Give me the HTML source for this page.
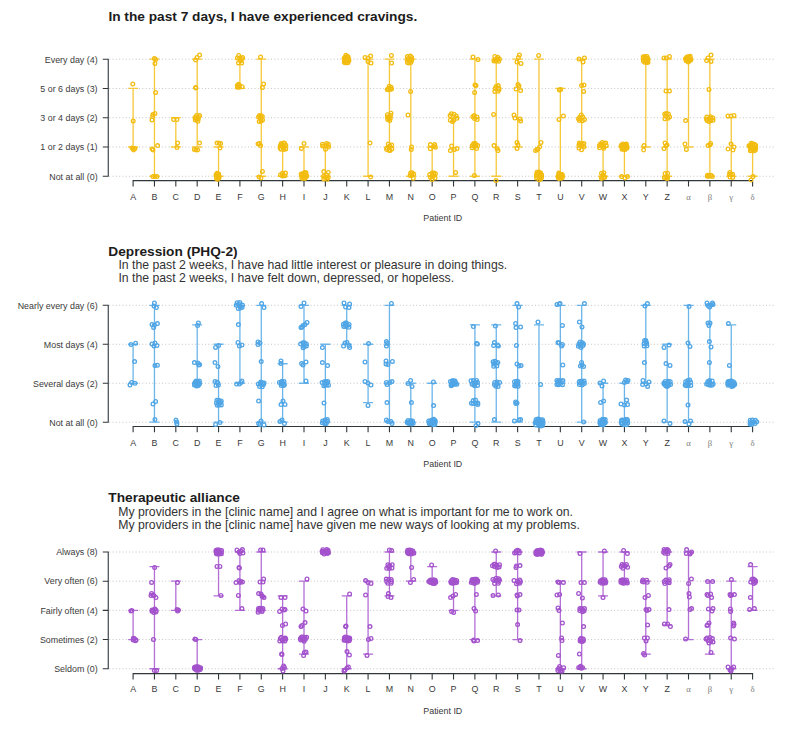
<!DOCTYPE html><html><head><meta charset="utf-8"><title>Patient responses</title><style>html,body{margin:0;padding:0;background:#fff}svg{display:block}</style></head><body><svg width="800" height="739" viewBox="0 0 800 739" font-family="'Liberation Sans', sans-serif">
<rect width="800" height="739" fill="#fff"/>
<text x="108.4" y="20.6" font-size="13.7" font-weight="bold" fill="#1c1c1c">In the past 7 days, I have experienced cravings.</text>
<text x="108.3" y="255.6" font-size="13.7" font-weight="bold" fill="#1c1c1c">Depression (PHQ-2)</text>
<text x="118.4" y="269.3" font-size="12.25" fill="#333">In the past 2 weeks, I have had little interest or pleasure in doing things.</text>
<text x="118.4" y="282.4" font-size="12.25" fill="#333">In the past 2 weeks, I have felt down, depressed, or hopeless.</text>
<text x="108.3" y="502" font-size="13.7" font-weight="bold" fill="#1c1c1c">Therapeutic alliance</text>
<text x="118.2" y="515.6" font-size="12.25" fill="#333">My providers in the [clinic name] and I agree on what is important for me to work on.</text>
<text x="118.2" y="528.6" font-size="12.25" fill="#333">My providers in the [clinic name] have given me new ways of looking at my problems.</text>
<g stroke="#c4c4c4" stroke-width="1" stroke-dasharray="1 2.3"><line x1="109.3" x2="775.6" y1="59.20" y2="59.20"/><line x1="109.3" x2="775.6" y1="88.46" y2="88.46"/><line x1="109.3" x2="775.6" y1="117.72" y2="117.72"/><line x1="109.3" x2="775.6" y1="146.99" y2="146.99"/><line x1="109.3" x2="775.6" y1="176.25" y2="176.25"/></g>
<path d="M108.25 59.20V176.25M103.3 59.20H108.25M103.3 88.46H108.25M103.3 117.72H108.25M103.3 146.99H108.25M103.3 176.25H108.25M133.10 180.60H752.60M133.10 180.60v5.3M154.46 180.60v5.3M175.82 180.60v5.3M197.19 180.60v5.3M218.55 180.60v5.3M239.91 180.60v5.3M261.27 180.60v5.3M282.63 180.60v5.3M304.00 180.60v5.3M325.36 180.60v5.3M346.72 180.60v5.3M368.08 180.60v5.3M389.44 180.60v5.3M410.81 180.60v5.3M432.17 180.60v5.3M453.53 180.60v5.3M474.89 180.60v5.3M496.25 180.60v5.3M517.62 180.60v5.3M538.98 180.60v5.3M560.34 180.60v5.3M581.70 180.60v5.3M603.06 180.60v5.3M624.43 180.60v5.3M645.79 180.60v5.3M667.15 180.60v5.3M688.51 180.60v5.3M709.87 180.60v5.3M731.24 180.60v5.3M752.60 180.60v5.3" stroke="#2f373b" stroke-width="1.1" fill="none" stroke-linecap="square"/>
<g font-size="8.9" fill="#3a3a3a"><text x="97.6" y="62.50" text-anchor="end">Every day (4)</text><text x="97.6" y="91.76" text-anchor="end">5 or 6 days (3)</text><text x="97.6" y="121.02" text-anchor="end">3 or 4 days (2)</text><text x="97.6" y="150.29" text-anchor="end">1 or 2 days (1)</text><text x="97.6" y="179.55" text-anchor="end">Not at all (0)</text><text x="133.10" y="199.75" text-anchor="middle">A</text><text x="154.46" y="199.75" text-anchor="middle">B</text><text x="175.82" y="199.75" text-anchor="middle">C</text><text x="197.19" y="199.75" text-anchor="middle">D</text><text x="218.55" y="199.75" text-anchor="middle">E</text><text x="239.91" y="199.75" text-anchor="middle">F</text><text x="261.27" y="199.75" text-anchor="middle">G</text><text x="282.63" y="199.75" text-anchor="middle">H</text><text x="304.00" y="199.75" text-anchor="middle">I</text><text x="325.36" y="199.75" text-anchor="middle">J</text><text x="346.72" y="199.75" text-anchor="middle">K</text><text x="368.08" y="199.75" text-anchor="middle">L</text><text x="389.44" y="199.75" text-anchor="middle">M</text><text x="410.81" y="199.75" text-anchor="middle">N</text><text x="432.17" y="199.75" text-anchor="middle">O</text><text x="453.53" y="199.75" text-anchor="middle">P</text><text x="474.89" y="199.75" text-anchor="middle">Q</text><text x="496.25" y="199.75" text-anchor="middle">R</text><text x="517.62" y="199.75" text-anchor="middle">S</text><text x="538.98" y="199.75" text-anchor="middle">T</text><text x="560.34" y="199.75" text-anchor="middle">U</text><text x="581.70" y="199.75" text-anchor="middle">V</text><text x="603.06" y="199.75" text-anchor="middle">W</text><text x="624.43" y="199.75" text-anchor="middle">X</text><text x="645.79" y="199.75" text-anchor="middle">Y</text><text x="667.15" y="199.75" text-anchor="middle">Z</text><text x="688.51" y="199.75" text-anchor="middle" font-family="'Liberation Serif', 'DejaVu Serif', serif" font-size="8.8" fill="#7d7d7d">α</text><text x="709.87" y="199.75" text-anchor="middle" font-family="'Liberation Serif', 'DejaVu Serif', serif" font-size="8.8" fill="#7d7d7d">β</text><text x="731.24" y="199.75" text-anchor="middle" font-family="'Liberation Serif', 'DejaVu Serif', serif" font-size="8.8" fill="#7d7d7d">γ</text><text x="752.60" y="199.75" text-anchor="middle" font-family="'Liberation Serif', 'DejaVu Serif', serif" font-size="8.8" fill="#7d7d7d">δ</text><text x="442.8" y="221.35" text-anchor="middle">Patient ID</text></g>
<path d="M133.10 88.46V146.99M128.10 88.46h10M128.10 146.99h10M154.46 59.20V176.25M149.46 59.20h10M149.46 176.25h10M175.82 117.72V146.99M170.82 117.72h10M170.82 146.99h10M197.19 59.20V146.99M192.19 59.20h10M192.19 146.99h10M218.55 146.99V176.25M213.55 146.99h10M213.55 176.25h10M239.91 59.20V88.46M234.91 59.20h10M234.91 88.46h10M261.27 59.20V176.25M256.27 59.20h10M256.27 176.25h10M282.63 146.99V176.25M277.63 146.99h10M277.63 176.25h10M304.00 146.99V176.25M299.00 146.99h10M299.00 176.25h10M325.36 146.99V176.25M320.36 146.99h10M320.36 176.25h10M368.08 59.20V176.25M363.08 59.20h10M363.08 176.25h10M389.44 59.20V146.99M384.44 59.20h10M384.44 146.99h10M410.81 59.20V176.25M405.81 59.20h10M405.81 176.25h10M432.17 146.99V176.25M427.17 146.99h10M427.17 176.25h10M453.53 117.72V176.25M448.53 117.72h10M448.53 176.25h10M474.89 59.20V176.25M469.89 59.20h10M469.89 176.25h10M496.25 59.20V176.25M491.25 59.20h10M491.25 176.25h10M517.62 59.20V146.99M512.62 59.20h10M512.62 146.99h10M538.98 59.20V176.25M533.98 59.20h10M533.98 176.25h10M560.34 88.46V176.25M555.34 88.46h10M555.34 176.25h10M581.70 59.20V146.99M576.70 59.20h10M576.70 146.99h10M603.06 146.99V176.25M598.06 146.99h10M598.06 176.25h10M624.43 146.99V176.25M619.43 146.99h10M619.43 176.25h10M645.79 59.20V146.99M640.79 59.20h10M640.79 146.99h10M667.15 59.20V176.25M662.15 59.20h10M662.15 176.25h10M688.51 59.20V146.99M683.51 59.20h10M683.51 146.99h10M709.87 59.20V176.25M704.87 59.20h10M704.87 176.25h10M731.24 117.72V176.25M726.24 117.72h10M726.24 176.25h10M752.60 146.99V176.25M747.60 146.99h10M747.60 176.25h10" stroke="#F6C83A" stroke-width="1.3" fill="none"/>
<g stroke="#F2BC10" stroke-width="1.3" fill="none"><circle cx="132.8" cy="84.0" r="1.85"/><circle cx="133.2" cy="121.0" r="1.85"/><circle cx="132.0" cy="148.0" r="1.85"/><circle cx="133.6" cy="150.0" r="1.85"/><circle cx="135.0" cy="148.6" r="1.85"/><circle cx="133.2" cy="149.0" r="1.85"/><circle cx="154.4" cy="58.6" r="1.85"/><circle cx="155.6" cy="59.4" r="1.85"/><circle cx="155.0" cy="63.4" r="1.85"/><circle cx="155.6" cy="92.4" r="1.85"/><circle cx="153.0" cy="114.6" r="1.85"/><circle cx="155.0" cy="113.4" r="1.85"/><circle cx="152.0" cy="120.0" r="1.85"/><circle cx="152.6" cy="116.6" r="1.85"/><circle cx="152.0" cy="149.0" r="1.85"/><circle cx="153.0" cy="150.0" r="1.85"/><circle cx="157.6" cy="145.6" r="1.85"/><circle cx="153.0" cy="176.6" r="1.85"/><circle cx="155.0" cy="176.6" r="1.85"/><circle cx="157.0" cy="176.6" r="1.85"/><circle cx="173.6" cy="119.6" r="1.85"/><circle cx="177.0" cy="119.6" r="1.85"/><circle cx="177.6" cy="143.0" r="1.85"/><circle cx="177.0" cy="147.6" r="1.85"/><circle cx="195.6" cy="60.0" r="1.85"/><circle cx="197.0" cy="57.4" r="1.85"/><circle cx="199.6" cy="55.0" r="1.85"/><circle cx="195.6" cy="87.6" r="1.85"/><circle cx="196.0" cy="88.0" r="1.85"/><circle cx="199.6" cy="143.0" r="1.85"/><circle cx="194.4" cy="149.4" r="1.85"/><circle cx="196.0" cy="150.0" r="1.85"/><circle cx="197.6" cy="150.0" r="1.85"/><circle cx="196.6" cy="115.4" r="1.85"/><circle cx="198.0" cy="121.3" r="1.85"/><circle cx="195.9" cy="118.6" r="1.85"/><circle cx="198.5" cy="116.4" r="1.85"/><circle cx="198.3" cy="118.7" r="1.85"/><circle cx="197.3" cy="119.2" r="1.85"/><circle cx="195.3" cy="120.0" r="1.85"/><circle cx="199.6" cy="115.4" r="1.85"/><circle cx="195.0" cy="117.4" r="1.85"/><circle cx="217.0" cy="143.0" r="1.85"/><circle cx="219.0" cy="143.0" r="1.85"/><circle cx="220.6" cy="143.4" r="1.85"/><circle cx="220.0" cy="148.0" r="1.85"/><circle cx="217.6" cy="177.0" r="1.85"/><circle cx="217.1" cy="173.2" r="1.85"/><circle cx="218.6" cy="173.9" r="1.85"/><circle cx="217.7" cy="179.5" r="1.85"/><circle cx="216.1" cy="174.7" r="1.85"/><circle cx="219.0" cy="175.8" r="1.85"/><circle cx="218.9" cy="178.1" r="1.85"/><circle cx="216.5" cy="178.4" r="1.85"/><circle cx="219.0" cy="177.2" r="1.85"/><circle cx="217.2" cy="175.9" r="1.85"/><circle cx="217.4" cy="174.0" r="1.85"/><circle cx="217.8" cy="178.1" r="1.85"/><circle cx="217.9" cy="176.2" r="1.85"/><circle cx="242.6" cy="57.4" r="1.85"/><circle cx="238.5" cy="62.9" r="1.85"/><circle cx="237.4" cy="58.0" r="1.85"/><circle cx="241.7" cy="63.1" r="1.85"/><circle cx="240.5" cy="60.9" r="1.85"/><circle cx="239.8" cy="58.0" r="1.85"/><circle cx="238.7" cy="55.4" r="1.85"/><circle cx="241.9" cy="58.8" r="1.85"/><circle cx="239.2" cy="87.3" r="1.85"/><circle cx="242.2" cy="86.7" r="1.85"/><circle cx="237.3" cy="85.5" r="1.85"/><circle cx="239.5" cy="85.3" r="1.85"/><circle cx="237.5" cy="87.3" r="1.85"/><circle cx="238.6" cy="84.2" r="1.85"/><circle cx="260.6" cy="57.0" r="1.85"/><circle cx="263.6" cy="84.0" r="1.85"/><circle cx="262.4" cy="87.4" r="1.85"/><circle cx="258.0" cy="144.0" r="1.85"/><circle cx="259.4" cy="143.4" r="1.85"/><circle cx="260.6" cy="145.6" r="1.85"/><circle cx="262.4" cy="171.4" r="1.85"/><circle cx="259.0" cy="177.0" r="1.85"/><circle cx="261.0" cy="178.0" r="1.85"/><circle cx="260.8" cy="119.3" r="1.85"/><circle cx="258.5" cy="117.0" r="1.85"/><circle cx="261.2" cy="115.8" r="1.85"/><circle cx="262.3" cy="116.6" r="1.85"/><circle cx="259.2" cy="121.4" r="1.85"/><circle cx="260.3" cy="117.2" r="1.85"/><circle cx="262.5" cy="119.9" r="1.85"/><circle cx="259.5" cy="115.6" r="1.85"/><circle cx="261.1" cy="121.1" r="1.85"/><circle cx="284.4" cy="146.2" r="1.85"/><circle cx="281.2" cy="149.3" r="1.85"/><circle cx="281.2" cy="143.6" r="1.85"/><circle cx="282.3" cy="145.4" r="1.85"/><circle cx="285.7" cy="148.9" r="1.85"/><circle cx="283.1" cy="147.8" r="1.85"/><circle cx="280.2" cy="148.5" r="1.85"/><circle cx="283.6" cy="143.1" r="1.85"/><circle cx="281.4" cy="144.7" r="1.85"/><circle cx="284.0" cy="149.5" r="1.85"/><circle cx="285.8" cy="145.2" r="1.85"/><circle cx="280.4" cy="145.8" r="1.85"/><circle cx="284.5" cy="143.2" r="1.85"/><circle cx="285.5" cy="173.1" r="1.85"/><circle cx="282.5" cy="175.9" r="1.85"/><circle cx="282.4" cy="173.3" r="1.85"/><circle cx="284.8" cy="175.8" r="1.85"/><circle cx="280.5" cy="174.7" r="1.85"/><circle cx="304.0" cy="143.4" r="1.85"/><circle cx="301.4" cy="148.4" r="1.85"/><circle cx="305.3" cy="175.1" r="1.85"/><circle cx="301.9" cy="178.2" r="1.85"/><circle cx="301.2" cy="174.1" r="1.85"/><circle cx="306.8" cy="176.1" r="1.85"/><circle cx="302.5" cy="176.2" r="1.85"/><circle cx="304.8" cy="172.6" r="1.85"/><circle cx="303.2" cy="173.4" r="1.85"/><circle cx="304.8" cy="178.4" r="1.85"/><circle cx="301.7" cy="175.4" r="1.85"/><circle cx="303.4" cy="177.9" r="1.85"/><circle cx="304.1" cy="174.7" r="1.85"/><circle cx="306.0" cy="172.8" r="1.85"/><circle cx="305.6" cy="177.5" r="1.85"/><circle cx="322.9" cy="146.1" r="1.85"/><circle cx="328.4" cy="144.2" r="1.85"/><circle cx="325.5" cy="149.2" r="1.85"/><circle cx="326.4" cy="145.6" r="1.85"/><circle cx="328.6" cy="147.0" r="1.85"/><circle cx="322.5" cy="144.3" r="1.85"/><circle cx="326.5" cy="143.4" r="1.85"/><circle cx="323.7" cy="176.2" r="1.85"/><circle cx="328.3" cy="177.5" r="1.85"/><circle cx="328.3" cy="172.5" r="1.85"/><circle cx="327.1" cy="175.2" r="1.85"/><circle cx="323.8" cy="171.6" r="1.85"/><circle cx="327.1" cy="179.2" r="1.85"/><circle cx="323.8" cy="178.9" r="1.85"/><circle cx="325.1" cy="177.4" r="1.85"/><circle cx="326.8" cy="177.5" r="1.85"/><circle cx="344.3" cy="61.9" r="1.85"/><circle cx="347.8" cy="56.6" r="1.85"/><circle cx="344.2" cy="58.3" r="1.85"/><circle cx="347.8" cy="62.8" r="1.85"/><circle cx="347.5" cy="59.0" r="1.85"/><circle cx="346.0" cy="58.2" r="1.85"/><circle cx="346.7" cy="61.0" r="1.85"/><circle cx="345.0" cy="57.4" r="1.85"/><circle cx="348.9" cy="60.8" r="1.85"/><circle cx="345.9" cy="55.3" r="1.85"/><circle cx="344.7" cy="59.8" r="1.85"/><circle cx="346.1" cy="56.8" r="1.85"/><circle cx="347.9" cy="60.7" r="1.85"/><circle cx="346.4" cy="62.8" r="1.85"/><circle cx="346.6" cy="60.1" r="1.85"/><circle cx="346.0" cy="61.1" r="1.85"/><circle cx="348.7" cy="59.2" r="1.85"/><circle cx="345.1" cy="62.7" r="1.85"/><circle cx="348.2" cy="57.8" r="1.85"/><circle cx="365.0" cy="57.4" r="1.85"/><circle cx="368.0" cy="58.0" r="1.85"/><circle cx="370.6" cy="56.0" r="1.85"/><circle cx="368.0" cy="61.4" r="1.85"/><circle cx="371.0" cy="63.0" r="1.85"/><circle cx="370.0" cy="143.0" r="1.85"/><circle cx="370.6" cy="177.0" r="1.85"/><circle cx="391.4" cy="55.4" r="1.85"/><circle cx="391.6" cy="63.0" r="1.85"/><circle cx="388.8" cy="88.5" r="1.85"/><circle cx="391.5" cy="89.1" r="1.85"/><circle cx="387.3" cy="89.5" r="1.85"/><circle cx="389.2" cy="86.3" r="1.85"/><circle cx="390.2" cy="89.3" r="1.85"/><circle cx="388.2" cy="89.8" r="1.85"/><circle cx="391.1" cy="87.2" r="1.85"/><circle cx="389.7" cy="120.5" r="1.85"/><circle cx="387.5" cy="114.8" r="1.85"/><circle cx="391.0" cy="113.2" r="1.85"/><circle cx="390.5" cy="115.4" r="1.85"/><circle cx="387.5" cy="117.1" r="1.85"/><circle cx="387.7" cy="119.6" r="1.85"/><circle cx="390.3" cy="118.3" r="1.85"/><circle cx="388.8" cy="118.4" r="1.85"/><circle cx="389.0" cy="117.1" r="1.85"/><circle cx="391.8" cy="149.1" r="1.85"/><circle cx="386.5" cy="149.5" r="1.85"/><circle cx="388.3" cy="143.9" r="1.85"/><circle cx="391.7" cy="145.0" r="1.85"/><circle cx="389.1" cy="147.7" r="1.85"/><circle cx="386.9" cy="148.0" r="1.85"/><circle cx="389.8" cy="145.9" r="1.85"/><circle cx="389.0" cy="150.3" r="1.85"/><circle cx="390.0" cy="150.4" r="1.85"/><circle cx="408.3" cy="58.5" r="1.85"/><circle cx="410.8" cy="62.6" r="1.85"/><circle cx="410.4" cy="56.1" r="1.85"/><circle cx="407.5" cy="62.5" r="1.85"/><circle cx="410.6" cy="59.9" r="1.85"/><circle cx="408.8" cy="62.9" r="1.85"/><circle cx="411.6" cy="57.5" r="1.85"/><circle cx="407.4" cy="56.6" r="1.85"/><circle cx="410.7" cy="58.9" r="1.85"/><circle cx="408.9" cy="60.2" r="1.85"/><circle cx="407.0" cy="59.6" r="1.85"/><circle cx="411.8" cy="59.5" r="1.85"/><circle cx="411.3" cy="61.0" r="1.85"/><circle cx="410.6" cy="91.4" r="1.85"/><circle cx="408.0" cy="115.0" r="1.85"/><circle cx="411.6" cy="147.0" r="1.85"/><circle cx="411.2" cy="149.4" r="1.85"/><circle cx="412.0" cy="175.5" r="1.85"/><circle cx="413.3" cy="178.3" r="1.85"/><circle cx="410.3" cy="175.6" r="1.85"/><circle cx="412.1" cy="172.7" r="1.85"/><circle cx="413.7" cy="174.1" r="1.85"/><circle cx="410.6" cy="173.1" r="1.85"/><circle cx="430.4" cy="144.6" r="1.85"/><circle cx="434.7" cy="144.6" r="1.85"/><circle cx="430.4" cy="148.7" r="1.85"/><circle cx="435.4" cy="147.3" r="1.85"/><circle cx="434.0" cy="146.5" r="1.85"/><circle cx="432.0" cy="179.4" r="1.85"/><circle cx="429.7" cy="174.5" r="1.85"/><circle cx="435.4" cy="173.8" r="1.85"/><circle cx="435.1" cy="178.0" r="1.85"/><circle cx="433.3" cy="176.2" r="1.85"/><circle cx="432.1" cy="173.1" r="1.85"/><circle cx="432.1" cy="176.0" r="1.85"/><circle cx="430.6" cy="177.4" r="1.85"/><circle cx="433.9" cy="173.1" r="1.85"/><circle cx="453.7" cy="120.2" r="1.85"/><circle cx="451.4" cy="113.7" r="1.85"/><circle cx="456.2" cy="115.9" r="1.85"/><circle cx="454.0" cy="114.3" r="1.85"/><circle cx="450.3" cy="120.2" r="1.85"/><circle cx="450.1" cy="115.6" r="1.85"/><circle cx="452.5" cy="121.4" r="1.85"/><circle cx="456.9" cy="118.2" r="1.85"/><circle cx="451.6" cy="146.0" r="1.85"/><circle cx="457.0" cy="148.6" r="1.85"/><circle cx="450.4" cy="150.6" r="1.85"/><circle cx="454.4" cy="149.4" r="1.85"/><circle cx="455.6" cy="172.4" r="1.85"/><circle cx="473.0" cy="57.0" r="1.85"/><circle cx="478.0" cy="59.4" r="1.85"/><circle cx="475.0" cy="85.0" r="1.85"/><circle cx="476.0" cy="85.6" r="1.85"/><circle cx="474.6" cy="92.4" r="1.85"/><circle cx="474.4" cy="175.4" r="1.85"/><circle cx="474.6" cy="118.6" r="1.85"/><circle cx="474.2" cy="115.6" r="1.85"/><circle cx="477.2" cy="119.6" r="1.85"/><circle cx="477.0" cy="117.0" r="1.85"/><circle cx="472.8" cy="116.8" r="1.85"/><circle cx="473.7" cy="143.6" r="1.85"/><circle cx="476.5" cy="148.6" r="1.85"/><circle cx="472.2" cy="147.8" r="1.85"/><circle cx="472.3" cy="145.6" r="1.85"/><circle cx="477.7" cy="145.5" r="1.85"/><circle cx="475.6" cy="146.3" r="1.85"/><circle cx="473.9" cy="146.3" r="1.85"/><circle cx="475.3" cy="143.4" r="1.85"/><circle cx="475.9" cy="144.9" r="1.85"/><circle cx="498.7" cy="61.3" r="1.85"/><circle cx="494.8" cy="56.5" r="1.85"/><circle cx="497.7" cy="57.2" r="1.85"/><circle cx="495.1" cy="59.9" r="1.85"/><circle cx="497.6" cy="59.6" r="1.85"/><circle cx="499.4" cy="58.9" r="1.85"/><circle cx="496.9" cy="58.4" r="1.85"/><circle cx="494.0" cy="61.0" r="1.85"/><circle cx="496.1" cy="61.0" r="1.85"/><circle cx="494.8" cy="91.4" r="1.85"/><circle cx="499.0" cy="89.5" r="1.85"/><circle cx="498.2" cy="85.6" r="1.85"/><circle cx="495.3" cy="88.6" r="1.85"/><circle cx="498.0" cy="91.3" r="1.85"/><circle cx="496.1" cy="86.4" r="1.85"/><circle cx="498.9" cy="88.2" r="1.85"/><circle cx="493.6" cy="114.4" r="1.85"/><circle cx="494.0" cy="145.6" r="1.85"/><circle cx="497.0" cy="148.6" r="1.85"/><circle cx="498.0" cy="150.6" r="1.85"/><circle cx="496.0" cy="180.6" r="1.85"/><circle cx="519.4" cy="55.0" r="1.85"/><circle cx="518.4" cy="57.4" r="1.85"/><circle cx="517.0" cy="62.0" r="1.85"/><circle cx="521.0" cy="63.4" r="1.85"/><circle cx="518.0" cy="84.4" r="1.85"/><circle cx="516.0" cy="89.0" r="1.85"/><circle cx="520.6" cy="90.6" r="1.85"/><circle cx="519.0" cy="86.0" r="1.85"/><circle cx="514.0" cy="115.0" r="1.85"/><circle cx="515.0" cy="118.0" r="1.85"/><circle cx="520.0" cy="119.0" r="1.85"/><circle cx="520.6" cy="121.0" r="1.85"/><circle cx="517.0" cy="142.4" r="1.85"/><circle cx="518.0" cy="145.0" r="1.85"/><circle cx="517.0" cy="148.4" r="1.85"/><circle cx="538.6" cy="55.4" r="1.85"/><circle cx="541.0" cy="142.4" r="1.85"/><circle cx="539.6" cy="147.0" r="1.85"/><circle cx="538.0" cy="149.0" r="1.85"/><circle cx="535.6" cy="150.4" r="1.85"/><circle cx="537.0" cy="149.4" r="1.85"/><circle cx="538.8" cy="176.6" r="1.85"/><circle cx="539.2" cy="179.7" r="1.85"/><circle cx="541.6" cy="177.5" r="1.85"/><circle cx="536.4" cy="174.7" r="1.85"/><circle cx="538.1" cy="173.1" r="1.85"/><circle cx="541.6" cy="174.7" r="1.85"/><circle cx="540.2" cy="173.7" r="1.85"/><circle cx="540.9" cy="179.0" r="1.85"/><circle cx="537.1" cy="176.3" r="1.85"/><circle cx="538.8" cy="172.1" r="1.85"/><circle cx="539.7" cy="177.8" r="1.85"/><circle cx="539.6" cy="174.6" r="1.85"/><circle cx="540.5" cy="172.7" r="1.85"/><circle cx="537.0" cy="172.2" r="1.85"/><circle cx="536.6" cy="177.9" r="1.85"/><circle cx="559.4" cy="90.0" r="1.85"/><circle cx="560.6" cy="89.4" r="1.85"/><circle cx="563.4" cy="116.0" r="1.85"/><circle cx="559.0" cy="119.4" r="1.85"/><circle cx="559.4" cy="178.2" r="1.85"/><circle cx="562.2" cy="174.6" r="1.85"/><circle cx="558.7" cy="175.0" r="1.85"/><circle cx="558.8" cy="173.1" r="1.85"/><circle cx="561.3" cy="178.3" r="1.85"/><circle cx="558.1" cy="177.1" r="1.85"/><circle cx="562.3" cy="177.4" r="1.85"/><circle cx="560.3" cy="176.3" r="1.85"/><circle cx="559.5" cy="173.9" r="1.85"/><circle cx="561.2" cy="174.9" r="1.85"/><circle cx="562.1" cy="176.1" r="1.85"/><circle cx="558.6" cy="178.5" r="1.85"/><circle cx="559.8" cy="177.3" r="1.85"/><circle cx="579.0" cy="59.0" r="1.85"/><circle cx="584.4" cy="58.0" r="1.85"/><circle cx="583.0" cy="62.0" r="1.85"/><circle cx="581.6" cy="85.6" r="1.85"/><circle cx="584.0" cy="85.0" r="1.85"/><circle cx="583.6" cy="91.4" r="1.85"/><circle cx="579.4" cy="120.4" r="1.85"/><circle cx="581.2" cy="115.0" r="1.85"/><circle cx="582.7" cy="117.0" r="1.85"/><circle cx="582.4" cy="120.7" r="1.85"/><circle cx="579.6" cy="117.4" r="1.85"/><circle cx="584.5" cy="119.6" r="1.85"/><circle cx="578.5" cy="118.7" r="1.85"/><circle cx="581.5" cy="149.8" r="1.85"/><circle cx="579.3" cy="143.0" r="1.85"/><circle cx="583.9" cy="143.5" r="1.85"/><circle cx="583.9" cy="147.0" r="1.85"/><circle cx="581.9" cy="145.4" r="1.85"/><circle cx="579.0" cy="144.9" r="1.85"/><circle cx="582.3" cy="143.8" r="1.85"/><circle cx="580.5" cy="144.1" r="1.85"/><circle cx="579.0" cy="148.1" r="1.85"/><circle cx="599.6" cy="147.7" r="1.85"/><circle cx="602.2" cy="142.5" r="1.85"/><circle cx="606.3" cy="145.7" r="1.85"/><circle cx="603.7" cy="148.5" r="1.85"/><circle cx="601.8" cy="145.2" r="1.85"/><circle cx="599.5" cy="145.6" r="1.85"/><circle cx="604.2" cy="143.3" r="1.85"/><circle cx="605.8" cy="143.0" r="1.85"/><circle cx="603.5" cy="146.7" r="1.85"/><circle cx="600.4" cy="144.0" r="1.85"/><circle cx="603.8" cy="172.7" r="1.85"/><circle cx="601.4" cy="178.5" r="1.85"/><circle cx="604.7" cy="177.3" r="1.85"/><circle cx="601.5" cy="173.3" r="1.85"/><circle cx="603.1" cy="175.1" r="1.85"/><circle cx="601.8" cy="177.3" r="1.85"/><circle cx="603.5" cy="177.7" r="1.85"/><circle cx="621.0" cy="146.2" r="1.85"/><circle cx="625.2" cy="148.3" r="1.85"/><circle cx="626.3" cy="144.1" r="1.85"/><circle cx="622.1" cy="149.2" r="1.85"/><circle cx="623.3" cy="147.4" r="1.85"/><circle cx="626.8" cy="146.3" r="1.85"/><circle cx="623.1" cy="143.9" r="1.85"/><circle cx="624.5" cy="145.8" r="1.85"/><circle cx="626.1" cy="145.3" r="1.85"/><circle cx="622.9" cy="145.5" r="1.85"/><circle cx="621.7" cy="144.7" r="1.85"/><circle cx="623.3" cy="149.1" r="1.85"/><circle cx="625.0" cy="144.7" r="1.85"/><circle cx="625.1" cy="149.4" r="1.85"/><circle cx="627.0" cy="147.9" r="1.85"/><circle cx="621.6" cy="176.6" r="1.85"/><circle cx="625.0" cy="178.0" r="1.85"/><circle cx="627.4" cy="176.6" r="1.85"/><circle cx="643.4" cy="58.4" r="1.85"/><circle cx="648.0" cy="62.3" r="1.85"/><circle cx="643.4" cy="60.9" r="1.85"/><circle cx="647.6" cy="58.3" r="1.85"/><circle cx="645.9" cy="61.7" r="1.85"/><circle cx="645.1" cy="56.4" r="1.85"/><circle cx="646.1" cy="58.8" r="1.85"/><circle cx="645.0" cy="58.0" r="1.85"/><circle cx="646.9" cy="61.0" r="1.85"/><circle cx="644.7" cy="62.3" r="1.85"/><circle cx="643.2" cy="56.7" r="1.85"/><circle cx="646.9" cy="62.6" r="1.85"/><circle cx="647.9" cy="59.7" r="1.85"/><circle cx="645.5" cy="60.5" r="1.85"/><circle cx="646.9" cy="56.4" r="1.85"/><circle cx="644.0" cy="145.6" r="1.85"/><circle cx="643.6" cy="150.0" r="1.85"/><circle cx="664.0" cy="58.0" r="1.85"/><circle cx="666.4" cy="58.0" r="1.85"/><circle cx="669.4" cy="56.4" r="1.85"/><circle cx="666.0" cy="91.0" r="1.85"/><circle cx="669.4" cy="91.0" r="1.85"/><circle cx="665.0" cy="143.0" r="1.85"/><circle cx="664.0" cy="148.6" r="1.85"/><circle cx="667.0" cy="145.0" r="1.85"/><circle cx="666.0" cy="146.0" r="1.85"/><circle cx="667.9" cy="118.3" r="1.85"/><circle cx="665.5" cy="116.0" r="1.85"/><circle cx="668.4" cy="114.0" r="1.85"/><circle cx="664.9" cy="118.8" r="1.85"/><circle cx="666.4" cy="113.4" r="1.85"/><circle cx="669.6" cy="117.1" r="1.85"/><circle cx="664.7" cy="114.1" r="1.85"/><circle cx="667.5" cy="177.2" r="1.85"/><circle cx="665.1" cy="173.5" r="1.85"/><circle cx="667.6" cy="173.3" r="1.85"/><circle cx="664.3" cy="177.4" r="1.85"/><circle cx="665.8" cy="178.1" r="1.85"/><circle cx="667.4" cy="178.6" r="1.85"/><circle cx="686.6" cy="57.6" r="1.85"/><circle cx="690.8" cy="60.1" r="1.85"/><circle cx="690.1" cy="56.2" r="1.85"/><circle cx="689.1" cy="59.4" r="1.85"/><circle cx="686.2" cy="60.7" r="1.85"/><circle cx="689.7" cy="57.3" r="1.85"/><circle cx="689.1" cy="61.0" r="1.85"/><circle cx="687.4" cy="58.8" r="1.85"/><circle cx="690.6" cy="58.8" r="1.85"/><circle cx="687.4" cy="56.7" r="1.85"/><circle cx="685.5" cy="58.8" r="1.85"/><circle cx="686.7" cy="59.6" r="1.85"/><circle cx="688.2" cy="62.0" r="1.85"/><circle cx="685.6" cy="120.6" r="1.85"/><circle cx="685.0" cy="144.0" r="1.85"/><circle cx="686.4" cy="149.4" r="1.85"/><circle cx="711.0" cy="55.0" r="1.85"/><circle cx="708.0" cy="58.0" r="1.85"/><circle cx="706.6" cy="60.6" r="1.85"/><circle cx="711.0" cy="61.4" r="1.85"/><circle cx="709.0" cy="89.4" r="1.85"/><circle cx="710.6" cy="143.4" r="1.85"/><circle cx="708.0" cy="145.6" r="1.85"/><circle cx="710.0" cy="145.0" r="1.85"/><circle cx="710.5" cy="116.7" r="1.85"/><circle cx="707.1" cy="120.6" r="1.85"/><circle cx="710.8" cy="120.8" r="1.85"/><circle cx="712.9" cy="117.9" r="1.85"/><circle cx="706.8" cy="116.9" r="1.85"/><circle cx="710.5" cy="118.3" r="1.85"/><circle cx="713.0" cy="120.3" r="1.85"/><circle cx="708.9" cy="121.5" r="1.85"/><circle cx="706.5" cy="119.0" r="1.85"/><circle cx="711.0" cy="175.3" r="1.85"/><circle cx="707.4" cy="176.3" r="1.85"/><circle cx="709.1" cy="176.3" r="1.85"/><circle cx="712.3" cy="176.4" r="1.85"/><circle cx="707.6" cy="175.3" r="1.85"/><circle cx="728.0" cy="116.0" r="1.85"/><circle cx="731.0" cy="116.0" r="1.85"/><circle cx="734.0" cy="115.4" r="1.85"/><circle cx="731.0" cy="144.0" r="1.85"/><circle cx="734.0" cy="147.0" r="1.85"/><circle cx="728.0" cy="149.0" r="1.85"/><circle cx="733.0" cy="150.0" r="1.85"/><circle cx="732.7" cy="177.4" r="1.85"/><circle cx="729.5" cy="174.2" r="1.85"/><circle cx="732.6" cy="174.3" r="1.85"/><circle cx="730.0" cy="176.9" r="1.85"/><circle cx="731.1" cy="174.6" r="1.85"/><circle cx="729.8" cy="172.5" r="1.85"/><circle cx="749.9" cy="146.7" r="1.85"/><circle cx="754.8" cy="144.4" r="1.85"/><circle cx="755.2" cy="150.2" r="1.85"/><circle cx="750.4" cy="150.7" r="1.85"/><circle cx="751.4" cy="144.5" r="1.85"/><circle cx="755.7" cy="145.6" r="1.85"/><circle cx="751.9" cy="148.1" r="1.85"/><circle cx="752.8" cy="145.7" r="1.85"/><circle cx="753.7" cy="148.2" r="1.85"/><circle cx="751.3" cy="143.2" r="1.85"/><circle cx="753.0" cy="143.8" r="1.85"/><circle cx="755.7" cy="148.6" r="1.85"/><circle cx="752.7" cy="149.6" r="1.85"/><circle cx="750.4" cy="145.4" r="1.85"/><circle cx="755.4" cy="147.4" r="1.85"/><circle cx="751.5" cy="150.4" r="1.85"/><circle cx="749.0" cy="145.7" r="1.85"/><circle cx="750.4" cy="147.7" r="1.85"/><circle cx="753.5" cy="151.0" r="1.85"/><circle cx="753.0" cy="176.6" r="1.85"/><circle cx="751.0" cy="180.0" r="1.85"/></g>
<g stroke="#c4c4c4" stroke-width="1" stroke-dasharray="1 2.3"><line x1="109.3" x2="775.6" y1="305.30" y2="305.30"/><line x1="109.3" x2="775.6" y1="344.27" y2="344.27"/><line x1="109.3" x2="775.6" y1="383.23" y2="383.23"/><line x1="109.3" x2="775.6" y1="422.20" y2="422.20"/></g>
<path d="M108.25 305.30V422.20M103.3 305.30H108.25M103.3 344.27H108.25M103.3 383.23H108.25M103.3 422.20H108.25M133.10 426.50H752.60M133.10 426.50v5.3M154.46 426.50v5.3M175.82 426.50v5.3M197.19 426.50v5.3M218.55 426.50v5.3M239.91 426.50v5.3M261.27 426.50v5.3M282.63 426.50v5.3M304.00 426.50v5.3M325.36 426.50v5.3M346.72 426.50v5.3M368.08 426.50v5.3M389.44 426.50v5.3M410.81 426.50v5.3M432.17 426.50v5.3M453.53 426.50v5.3M474.89 426.50v5.3M496.25 426.50v5.3M517.62 426.50v5.3M538.98 426.50v5.3M560.34 426.50v5.3M581.70 426.50v5.3M603.06 426.50v5.3M624.43 426.50v5.3M645.79 426.50v5.3M667.15 426.50v5.3M688.51 426.50v5.3M709.87 426.50v5.3M731.24 426.50v5.3M752.60 426.50v5.3" stroke="#2f373b" stroke-width="1.1" fill="none" stroke-linecap="square"/>
<g font-size="8.9" fill="#3a3a3a"><text x="97.6" y="308.60" text-anchor="end">Nearly every day (6)</text><text x="97.6" y="347.57" text-anchor="end">Most days (4)</text><text x="97.6" y="386.53" text-anchor="end">Several days (2)</text><text x="97.6" y="425.50" text-anchor="end">Not at all (0)</text><text x="133.10" y="445.70" text-anchor="middle">A</text><text x="154.46" y="445.70" text-anchor="middle">B</text><text x="175.82" y="445.70" text-anchor="middle">C</text><text x="197.19" y="445.70" text-anchor="middle">D</text><text x="218.55" y="445.70" text-anchor="middle">E</text><text x="239.91" y="445.70" text-anchor="middle">F</text><text x="261.27" y="445.70" text-anchor="middle">G</text><text x="282.63" y="445.70" text-anchor="middle">H</text><text x="304.00" y="445.70" text-anchor="middle">I</text><text x="325.36" y="445.70" text-anchor="middle">J</text><text x="346.72" y="445.70" text-anchor="middle">K</text><text x="368.08" y="445.70" text-anchor="middle">L</text><text x="389.44" y="445.70" text-anchor="middle">M</text><text x="410.81" y="445.70" text-anchor="middle">N</text><text x="432.17" y="445.70" text-anchor="middle">O</text><text x="453.53" y="445.70" text-anchor="middle">P</text><text x="474.89" y="445.70" text-anchor="middle">Q</text><text x="496.25" y="445.70" text-anchor="middle">R</text><text x="517.62" y="445.70" text-anchor="middle">S</text><text x="538.98" y="445.70" text-anchor="middle">T</text><text x="560.34" y="445.70" text-anchor="middle">U</text><text x="581.70" y="445.70" text-anchor="middle">V</text><text x="603.06" y="445.70" text-anchor="middle">W</text><text x="624.43" y="445.70" text-anchor="middle">X</text><text x="645.79" y="445.70" text-anchor="middle">Y</text><text x="667.15" y="445.70" text-anchor="middle">Z</text><text x="688.51" y="445.70" text-anchor="middle" font-family="'Liberation Serif', 'DejaVu Serif', serif" font-size="8.8" fill="#7d7d7d">α</text><text x="709.87" y="445.70" text-anchor="middle" font-family="'Liberation Serif', 'DejaVu Serif', serif" font-size="8.8" fill="#7d7d7d">β</text><text x="731.24" y="445.70" text-anchor="middle" font-family="'Liberation Serif', 'DejaVu Serif', serif" font-size="8.8" fill="#7d7d7d">γ</text><text x="752.60" y="445.70" text-anchor="middle" font-family="'Liberation Serif', 'DejaVu Serif', serif" font-size="8.8" fill="#7d7d7d">δ</text><text x="442.8" y="467.30" text-anchor="middle">Patient ID</text></g>
<path d="M133.10 344.27V383.23M128.10 344.27h10M128.10 383.23h10M154.46 305.30V422.20M149.46 305.30h10M149.46 422.20h10M197.19 324.78V383.23M192.19 324.78h10M192.19 383.23h10M218.55 344.27V422.20M213.55 344.27h10M213.55 422.20h10M239.91 305.30V383.23M234.91 305.30h10M234.91 383.23h10M261.27 305.30V422.20M256.27 305.30h10M256.27 422.20h10M282.63 363.75V422.20M277.63 363.75h10M277.63 422.20h10M304.00 305.30V383.23M299.00 305.30h10M299.00 383.23h10M325.36 344.27V422.20M320.36 344.27h10M320.36 422.20h10M346.72 305.30V344.27M341.72 305.30h10M341.72 344.27h10M368.08 344.27V402.72M363.08 344.27h10M363.08 402.72h10M389.44 305.30V422.20M384.44 305.30h10M384.44 422.20h10M410.81 383.23V422.20M405.81 383.23h10M405.81 422.20h10M432.17 383.23V422.20M427.17 383.23h10M427.17 422.20h10M474.89 324.78V422.20M469.89 324.78h10M469.89 422.20h10M496.25 324.78V422.20M491.25 324.78h10M491.25 422.20h10M517.62 305.30V422.20M512.62 305.30h10M512.62 422.20h10M538.98 324.78V422.20M533.98 324.78h10M533.98 422.20h10M560.34 305.30V383.23M555.34 305.30h10M555.34 383.23h10M581.70 305.30V422.20M576.70 305.30h10M576.70 422.20h10M603.06 383.23V422.20M598.06 383.23h10M598.06 422.20h10M624.43 383.23V422.20M619.43 383.23h10M619.43 422.20h10M645.79 305.30V383.23M640.79 305.30h10M640.79 383.23h10M667.15 344.27V422.20M662.15 344.27h10M662.15 422.20h10M688.51 305.30V422.20M683.51 305.30h10M683.51 422.20h10M709.87 305.30V383.23M704.87 305.30h10M704.87 383.23h10M731.24 324.78V383.23M726.24 324.78h10M726.24 383.23h10" stroke="#6CB5EA" stroke-width="1.3" fill="none"/>
<g stroke="#4FA5E5" stroke-width="1.3" fill="none"><circle cx="131.0" cy="344.4" r="1.85"/><circle cx="135.6" cy="343.2" r="1.85"/><circle cx="134.6" cy="361.6" r="1.85"/><circle cx="131.6" cy="382.4" r="1.85"/><circle cx="130.0" cy="385.0" r="1.85"/><circle cx="135.0" cy="383.2" r="1.85"/><circle cx="154.4" cy="303.0" r="1.85"/><circle cx="154.0" cy="306.0" r="1.85"/><circle cx="156.4" cy="307.6" r="1.85"/><circle cx="152.0" cy="324.4" r="1.85"/><circle cx="154.4" cy="325.0" r="1.85"/><circle cx="157.4" cy="323.6" r="1.85"/><circle cx="153.6" cy="327.4" r="1.85"/><circle cx="152.0" cy="344.0" r="1.85"/><circle cx="155.0" cy="343.0" r="1.85"/><circle cx="154.0" cy="346.0" r="1.85"/><circle cx="157.0" cy="345.6" r="1.85"/><circle cx="155.0" cy="365.6" r="1.85"/><circle cx="157.4" cy="365.2" r="1.85"/><circle cx="155.6" cy="401.4" r="1.85"/><circle cx="153.0" cy="404.0" r="1.85"/><circle cx="155.0" cy="419.6" r="1.85"/><circle cx="176.0" cy="420.0" r="1.85"/><circle cx="176.6" cy="422.0" r="1.85"/><circle cx="177.0" cy="424.0" r="1.85"/><circle cx="198.4" cy="323.0" r="1.85"/><circle cx="197.6" cy="325.6" r="1.85"/><circle cx="194.4" cy="362.6" r="1.85"/><circle cx="198.0" cy="363.0" r="1.85"/><circle cx="199.6" cy="364.4" r="1.85"/><circle cx="199.0" cy="365.0" r="1.85"/><circle cx="195.5" cy="381.7" r="1.85"/><circle cx="196.6" cy="385.9" r="1.85"/><circle cx="198.1" cy="382.7" r="1.85"/><circle cx="199.1" cy="384.5" r="1.85"/><circle cx="197.5" cy="384.3" r="1.85"/><circle cx="196.1" cy="383.5" r="1.85"/><circle cx="196.9" cy="382.4" r="1.85"/><circle cx="194.4" cy="385.0" r="1.85"/><circle cx="196.3" cy="381.1" r="1.85"/><circle cx="198.0" cy="385.8" r="1.85"/><circle cx="198.2" cy="381.5" r="1.85"/><circle cx="194.4" cy="383.5" r="1.85"/><circle cx="199.5" cy="383.6" r="1.85"/><circle cx="196.3" cy="382.1" r="1.85"/><circle cx="199.5" cy="381.0" r="1.85"/><circle cx="215.6" cy="347.4" r="1.85"/><circle cx="218.6" cy="345.6" r="1.85"/><circle cx="215.0" cy="362.6" r="1.85"/><circle cx="218.0" cy="366.4" r="1.85"/><circle cx="215.0" cy="381.4" r="1.85"/><circle cx="217.0" cy="382.0" r="1.85"/><circle cx="218.0" cy="383.0" r="1.85"/><circle cx="216.0" cy="385.6" r="1.85"/><circle cx="218.4" cy="385.0" r="1.85"/><circle cx="215.6" cy="424.4" r="1.85"/><circle cx="220.0" cy="422.4" r="1.85"/><circle cx="221.3" cy="404.9" r="1.85"/><circle cx="216.5" cy="403.0" r="1.85"/><circle cx="218.6" cy="400.2" r="1.85"/><circle cx="217.3" cy="405.3" r="1.85"/><circle cx="218.6" cy="402.8" r="1.85"/><circle cx="221.2" cy="400.9" r="1.85"/><circle cx="220.9" cy="402.6" r="1.85"/><circle cx="216.9" cy="400.3" r="1.85"/><circle cx="219.1" cy="404.9" r="1.85"/><circle cx="219.1" cy="401.6" r="1.85"/><circle cx="240.2" cy="306.1" r="1.85"/><circle cx="236.2" cy="305.3" r="1.85"/><circle cx="239.8" cy="302.4" r="1.85"/><circle cx="242.5" cy="305.1" r="1.85"/><circle cx="238.3" cy="308.6" r="1.85"/><circle cx="238.8" cy="304.0" r="1.85"/><circle cx="240.5" cy="308.1" r="1.85"/><circle cx="237.1" cy="302.8" r="1.85"/><circle cx="242.1" cy="307.2" r="1.85"/><circle cx="238.4" cy="324.6" r="1.85"/><circle cx="238.0" cy="342.4" r="1.85"/><circle cx="239.4" cy="346.0" r="1.85"/><circle cx="242.0" cy="345.0" r="1.85"/><circle cx="236.6" cy="384.0" r="1.85"/><circle cx="239.4" cy="384.0" r="1.85"/><circle cx="242.0" cy="381.0" r="1.85"/><circle cx="241.0" cy="382.4" r="1.85"/><circle cx="261.6" cy="303.6" r="1.85"/><circle cx="264.0" cy="307.6" r="1.85"/><circle cx="258.0" cy="342.0" r="1.85"/><circle cx="260.0" cy="343.0" r="1.85"/><circle cx="258.0" cy="344.6" r="1.85"/><circle cx="261.2" cy="361.6" r="1.85"/><circle cx="258.6" cy="401.0" r="1.85"/><circle cx="261.0" cy="421.0" r="1.85"/><circle cx="258.6" cy="423.6" r="1.85"/><circle cx="260.0" cy="424.4" r="1.85"/><circle cx="264.0" cy="425.0" r="1.85"/><circle cx="258.3" cy="384.0" r="1.85"/><circle cx="262.2" cy="386.7" r="1.85"/><circle cx="262.9" cy="382.9" r="1.85"/><circle cx="260.8" cy="382.0" r="1.85"/><circle cx="259.6" cy="386.6" r="1.85"/><circle cx="263.3" cy="384.7" r="1.85"/><circle cx="264.1" cy="383.0" r="1.85"/><circle cx="260.2" cy="384.1" r="1.85"/><circle cx="261.1" cy="383.3" r="1.85"/><circle cx="281.0" cy="361.0" r="1.85"/><circle cx="281.0" cy="363.6" r="1.85"/><circle cx="283.0" cy="401.0" r="1.85"/><circle cx="281.0" cy="404.6" r="1.85"/><circle cx="285.0" cy="404.4" r="1.85"/><circle cx="280.0" cy="421.6" r="1.85"/><circle cx="282.0" cy="420.0" r="1.85"/><circle cx="284.4" cy="423.6" r="1.85"/><circle cx="281.2" cy="382.5" r="1.85"/><circle cx="284.0" cy="381.4" r="1.85"/><circle cx="283.6" cy="385.5" r="1.85"/><circle cx="281.3" cy="385.6" r="1.85"/><circle cx="282.0" cy="381.3" r="1.85"/><circle cx="279.4" cy="382.4" r="1.85"/><circle cx="283.1" cy="383.4" r="1.85"/><circle cx="281.4" cy="383.8" r="1.85"/><circle cx="284.4" cy="384.7" r="1.85"/><circle cx="304.0" cy="303.0" r="1.85"/><circle cx="301.0" cy="306.4" r="1.85"/><circle cx="307.0" cy="322.4" r="1.85"/><circle cx="305.0" cy="324.4" r="1.85"/><circle cx="303.0" cy="325.6" r="1.85"/><circle cx="301.0" cy="327.6" r="1.85"/><circle cx="302.0" cy="327.0" r="1.85"/><circle cx="306.0" cy="362.0" r="1.85"/><circle cx="301.6" cy="363.6" r="1.85"/><circle cx="303.0" cy="365.0" r="1.85"/><circle cx="306.0" cy="381.0" r="1.85"/><circle cx="300.6" cy="344.1" r="1.85"/><circle cx="303.1" cy="347.7" r="1.85"/><circle cx="303.6" cy="344.8" r="1.85"/><circle cx="306.4" cy="344.0" r="1.85"/><circle cx="302.9" cy="342.8" r="1.85"/><circle cx="306.4" cy="345.9" r="1.85"/><circle cx="304.4" cy="342.7" r="1.85"/><circle cx="304.2" cy="346.4" r="1.85"/><circle cx="322.4" cy="347.6" r="1.85"/><circle cx="322.4" cy="362.6" r="1.85"/><circle cx="327.6" cy="365.6" r="1.85"/><circle cx="324.0" cy="403.0" r="1.85"/><circle cx="328.5" cy="385.2" r="1.85"/><circle cx="322.1" cy="382.5" r="1.85"/><circle cx="323.8" cy="385.7" r="1.85"/><circle cx="327.8" cy="381.5" r="1.85"/><circle cx="326.6" cy="382.8" r="1.85"/><circle cx="324.3" cy="381.8" r="1.85"/><circle cx="325.3" cy="385.0" r="1.85"/><circle cx="326.2" cy="381.4" r="1.85"/><circle cx="326.5" cy="385.1" r="1.85"/><circle cx="325.1" cy="420.1" r="1.85"/><circle cx="325.0" cy="423.8" r="1.85"/><circle cx="322.3" cy="422.8" r="1.85"/><circle cx="327.3" cy="419.6" r="1.85"/><circle cx="326.2" cy="423.5" r="1.85"/><circle cx="327.4" cy="421.5" r="1.85"/><circle cx="324.8" cy="422.4" r="1.85"/><circle cx="322.7" cy="420.9" r="1.85"/><circle cx="344.0" cy="303.0" r="1.85"/><circle cx="349.6" cy="304.0" r="1.85"/><circle cx="345.6" cy="307.0" r="1.85"/><circle cx="349.0" cy="307.6" r="1.85"/><circle cx="345.0" cy="343.0" r="1.85"/><circle cx="347.0" cy="342.4" r="1.85"/><circle cx="343.6" cy="346.0" r="1.85"/><circle cx="349.0" cy="345.6" r="1.85"/><circle cx="349.6" cy="347.6" r="1.85"/><circle cx="345.3" cy="323.0" r="1.85"/><circle cx="349.1" cy="324.4" r="1.85"/><circle cx="345.7" cy="326.4" r="1.85"/><circle cx="348.9" cy="327.2" r="1.85"/><circle cx="343.4" cy="324.3" r="1.85"/><circle cx="346.4" cy="323.0" r="1.85"/><circle cx="347.5" cy="325.5" r="1.85"/><circle cx="343.8" cy="326.6" r="1.85"/><circle cx="345.5" cy="324.5" r="1.85"/><circle cx="368.6" cy="343.6" r="1.85"/><circle cx="365.0" cy="362.0" r="1.85"/><circle cx="365.0" cy="381.4" r="1.85"/><circle cx="368.0" cy="383.0" r="1.85"/><circle cx="371.0" cy="385.0" r="1.85"/><circle cx="368.0" cy="405.4" r="1.85"/><circle cx="391.4" cy="303.4" r="1.85"/><circle cx="386.4" cy="341.6" r="1.85"/><circle cx="387.0" cy="343.6" r="1.85"/><circle cx="386.4" cy="346.0" r="1.85"/><circle cx="386.0" cy="361.0" r="1.85"/><circle cx="392.4" cy="361.4" r="1.85"/><circle cx="386.0" cy="364.0" r="1.85"/><circle cx="388.0" cy="364.4" r="1.85"/><circle cx="386.4" cy="382.4" r="1.85"/><circle cx="390.0" cy="382.4" r="1.85"/><circle cx="392.0" cy="381.6" r="1.85"/><circle cx="387.0" cy="384.6" r="1.85"/><circle cx="387.0" cy="402.6" r="1.85"/><circle cx="386.4" cy="420.0" r="1.85"/><circle cx="388.0" cy="421.6" r="1.85"/><circle cx="391.0" cy="421.6" r="1.85"/><circle cx="392.0" cy="423.6" r="1.85"/><circle cx="410.6" cy="380.4" r="1.85"/><circle cx="408.0" cy="383.4" r="1.85"/><circle cx="412.0" cy="386.4" r="1.85"/><circle cx="411.4" cy="402.6" r="1.85"/><circle cx="410.9" cy="420.7" r="1.85"/><circle cx="407.6" cy="422.7" r="1.85"/><circle cx="413.2" cy="423.2" r="1.85"/><circle cx="412.6" cy="421.0" r="1.85"/><circle cx="408.1" cy="420.5" r="1.85"/><circle cx="409.1" cy="423.5" r="1.85"/><circle cx="410.7" cy="422.0" r="1.85"/><circle cx="410.5" cy="423.4" r="1.85"/><circle cx="408.2" cy="422.9" r="1.85"/><circle cx="411.5" cy="423.9" r="1.85"/><circle cx="410.2" cy="421.3" r="1.85"/><circle cx="407.1" cy="421.9" r="1.85"/><circle cx="412.0" cy="422.4" r="1.85"/><circle cx="433.4" cy="382.0" r="1.85"/><circle cx="433.6" cy="405.6" r="1.85"/><circle cx="431.5" cy="424.0" r="1.85"/><circle cx="433.8" cy="419.3" r="1.85"/><circle cx="434.6" cy="423.0" r="1.85"/><circle cx="433.5" cy="424.8" r="1.85"/><circle cx="428.7" cy="420.9" r="1.85"/><circle cx="435.1" cy="420.5" r="1.85"/><circle cx="432.1" cy="421.3" r="1.85"/><circle cx="429.4" cy="423.8" r="1.85"/><circle cx="432.0" cy="419.9" r="1.85"/><circle cx="430.7" cy="423.1" r="1.85"/><circle cx="433.8" cy="420.8" r="1.85"/><circle cx="433.8" cy="421.8" r="1.85"/><circle cx="429.2" cy="423.0" r="1.85"/><circle cx="430.6" cy="420.7" r="1.85"/><circle cx="431.7" cy="422.4" r="1.85"/><circle cx="435.3" cy="421.9" r="1.85"/><circle cx="434.8" cy="424.4" r="1.85"/><circle cx="434.5" cy="421.5" r="1.85"/><circle cx="455.1" cy="381.1" r="1.85"/><circle cx="451.2" cy="385.7" r="1.85"/><circle cx="450.4" cy="381.5" r="1.85"/><circle cx="454.7" cy="384.3" r="1.85"/><circle cx="453.1" cy="381.9" r="1.85"/><circle cx="455.7" cy="383.0" r="1.85"/><circle cx="456.8" cy="384.2" r="1.85"/><circle cx="452.4" cy="384.7" r="1.85"/><circle cx="453.4" cy="380.8" r="1.85"/><circle cx="453.7" cy="383.8" r="1.85"/><circle cx="451.2" cy="384.6" r="1.85"/><circle cx="451.8" cy="383.4" r="1.85"/><circle cx="452.2" cy="380.7" r="1.85"/><circle cx="473.4" cy="326.6" r="1.85"/><circle cx="476.6" cy="343.6" r="1.85"/><circle cx="477.4" cy="344.0" r="1.85"/><circle cx="478.0" cy="423.6" r="1.85"/><circle cx="476.0" cy="425.6" r="1.85"/><circle cx="473.4" cy="380.6" r="1.85"/><circle cx="477.5" cy="385.4" r="1.85"/><circle cx="472.1" cy="384.3" r="1.85"/><circle cx="476.6" cy="380.5" r="1.85"/><circle cx="474.7" cy="385.7" r="1.85"/><circle cx="473.7" cy="384.6" r="1.85"/><circle cx="475.7" cy="382.5" r="1.85"/><circle cx="477.5" cy="382.6" r="1.85"/><circle cx="471.0" cy="380.7" r="1.85"/><circle cx="474.3" cy="382.9" r="1.85"/><circle cx="473.3" cy="400.6" r="1.85"/><circle cx="477.8" cy="403.1" r="1.85"/><circle cx="475.7" cy="403.5" r="1.85"/><circle cx="475.5" cy="400.0" r="1.85"/><circle cx="471.4" cy="403.2" r="1.85"/><circle cx="477.8" cy="404.4" r="1.85"/><circle cx="473.0" cy="403.6" r="1.85"/><circle cx="495.4" cy="326.0" r="1.85"/><circle cx="494.4" cy="342.6" r="1.85"/><circle cx="493.6" cy="345.6" r="1.85"/><circle cx="497.6" cy="345.0" r="1.85"/><circle cx="498.4" cy="346.0" r="1.85"/><circle cx="494.4" cy="419.6" r="1.85"/><circle cx="495.0" cy="361.2" r="1.85"/><circle cx="493.7" cy="366.2" r="1.85"/><circle cx="497.8" cy="362.4" r="1.85"/><circle cx="493.8" cy="364.0" r="1.85"/><circle cx="493.1" cy="361.7" r="1.85"/><circle cx="496.8" cy="366.1" r="1.85"/><circle cx="496.4" cy="363.1" r="1.85"/><circle cx="494.7" cy="382.4" r="1.85"/><circle cx="498.1" cy="386.5" r="1.85"/><circle cx="499.6" cy="382.4" r="1.85"/><circle cx="494.5" cy="384.7" r="1.85"/><circle cx="497.1" cy="381.9" r="1.85"/><circle cx="497.1" cy="383.8" r="1.85"/><circle cx="495.9" cy="386.3" r="1.85"/><circle cx="517.0" cy="303.6" r="1.85"/><circle cx="518.6" cy="307.0" r="1.85"/><circle cx="515.6" cy="323.4" r="1.85"/><circle cx="516.0" cy="327.6" r="1.85"/><circle cx="520.6" cy="327.0" r="1.85"/><circle cx="516.4" cy="345.4" r="1.85"/><circle cx="517.0" cy="364.0" r="1.85"/><circle cx="519.0" cy="366.0" r="1.85"/><circle cx="521.0" cy="365.6" r="1.85"/><circle cx="515.6" cy="402.0" r="1.85"/><circle cx="517.0" cy="403.0" r="1.85"/><circle cx="516.0" cy="403.6" r="1.85"/><circle cx="514.4" cy="421.0" r="1.85"/><circle cx="519.0" cy="420.0" r="1.85"/><circle cx="520.6" cy="419.6" r="1.85"/><circle cx="514.5" cy="381.7" r="1.85"/><circle cx="518.1" cy="386.2" r="1.85"/><circle cx="516.5" cy="381.3" r="1.85"/><circle cx="514.6" cy="385.7" r="1.85"/><circle cx="517.8" cy="383.9" r="1.85"/><circle cx="515.9" cy="384.0" r="1.85"/><circle cx="516.5" cy="385.3" r="1.85"/><circle cx="515.6" cy="386.0" r="1.85"/><circle cx="518.0" cy="381.6" r="1.85"/><circle cx="538.0" cy="322.0" r="1.85"/><circle cx="540.6" cy="384.4" r="1.85"/><circle cx="543.0" cy="423.5" r="1.85"/><circle cx="536.0" cy="421.4" r="1.85"/><circle cx="539.8" cy="421.1" r="1.85"/><circle cx="540.9" cy="423.8" r="1.85"/><circle cx="535.9" cy="424.9" r="1.85"/><circle cx="540.9" cy="425.9" r="1.85"/><circle cx="542.5" cy="419.7" r="1.85"/><circle cx="537.9" cy="423.1" r="1.85"/><circle cx="536.1" cy="419.5" r="1.85"/><circle cx="541.7" cy="421.9" r="1.85"/><circle cx="540.7" cy="419.9" r="1.85"/><circle cx="537.9" cy="419.1" r="1.85"/><circle cx="542.9" cy="421.3" r="1.85"/><circle cx="538.6" cy="425.4" r="1.85"/><circle cx="538.8" cy="423.8" r="1.85"/><circle cx="537.6" cy="420.6" r="1.85"/><circle cx="535.2" cy="422.7" r="1.85"/><circle cx="540.0" cy="422.8" r="1.85"/><circle cx="539.0" cy="419.3" r="1.85"/><circle cx="542.4" cy="425.4" r="1.85"/><circle cx="541.5" cy="424.5" r="1.85"/><circle cx="557.0" cy="304.4" r="1.85"/><circle cx="559.4" cy="304.0" r="1.85"/><circle cx="560.0" cy="303.6" r="1.85"/><circle cx="562.4" cy="325.4" r="1.85"/><circle cx="558.0" cy="342.4" r="1.85"/><circle cx="559.0" cy="343.0" r="1.85"/><circle cx="562.4" cy="344.4" r="1.85"/><circle cx="561.6" cy="346.0" r="1.85"/><circle cx="562.8" cy="365.0" r="1.85"/><circle cx="562.5" cy="384.7" r="1.85"/><circle cx="559.5" cy="380.6" r="1.85"/><circle cx="558.6" cy="384.8" r="1.85"/><circle cx="556.9" cy="380.5" r="1.85"/><circle cx="558.0" cy="383.2" r="1.85"/><circle cx="560.6" cy="383.6" r="1.85"/><circle cx="558.2" cy="381.3" r="1.85"/><circle cx="562.9" cy="380.6" r="1.85"/><circle cx="556.9" cy="384.4" r="1.85"/><circle cx="561.3" cy="381.3" r="1.85"/><circle cx="584.4" cy="303.6" r="1.85"/><circle cx="579.4" cy="322.0" r="1.85"/><circle cx="582.0" cy="327.0" r="1.85"/><circle cx="581.6" cy="362.4" r="1.85"/><circle cx="580.4" cy="366.0" r="1.85"/><circle cx="583.6" cy="366.4" r="1.85"/><circle cx="582.0" cy="365.0" r="1.85"/><circle cx="583.6" cy="422.0" r="1.85"/><circle cx="580.1" cy="341.9" r="1.85"/><circle cx="583.0" cy="345.5" r="1.85"/><circle cx="578.4" cy="346.2" r="1.85"/><circle cx="582.3" cy="342.7" r="1.85"/><circle cx="580.7" cy="344.0" r="1.85"/><circle cx="578.9" cy="344.1" r="1.85"/><circle cx="581.1" cy="347.5" r="1.85"/><circle cx="583.5" cy="344.1" r="1.85"/><circle cx="580.1" cy="345.4" r="1.85"/><circle cx="579.2" cy="382.5" r="1.85"/><circle cx="582.1" cy="385.0" r="1.85"/><circle cx="584.4" cy="383.5" r="1.85"/><circle cx="581.5" cy="381.0" r="1.85"/><circle cx="584.1" cy="381.0" r="1.85"/><circle cx="583.2" cy="382.6" r="1.85"/><circle cx="581.8" cy="383.2" r="1.85"/><circle cx="579.4" cy="384.6" r="1.85"/><circle cx="579.4" cy="381.5" r="1.85"/><circle cx="603.6" cy="381.0" r="1.85"/><circle cx="600.0" cy="383.0" r="1.85"/><circle cx="602.0" cy="386.0" r="1.85"/><circle cx="603.6" cy="401.0" r="1.85"/><circle cx="600.6" cy="402.4" r="1.85"/><circle cx="605.3" cy="422.4" r="1.85"/><circle cx="600.1" cy="420.5" r="1.85"/><circle cx="603.2" cy="424.9" r="1.85"/><circle cx="602.9" cy="420.3" r="1.85"/><circle cx="599.9" cy="422.8" r="1.85"/><circle cx="604.6" cy="423.1" r="1.85"/><circle cx="602.5" cy="422.1" r="1.85"/><circle cx="603.7" cy="422.0" r="1.85"/><circle cx="600.3" cy="424.2" r="1.85"/><circle cx="605.2" cy="419.6" r="1.85"/><circle cx="602.5" cy="419.3" r="1.85"/><circle cx="601.2" cy="421.5" r="1.85"/><circle cx="603.7" cy="419.4" r="1.85"/><circle cx="602.6" cy="424.2" r="1.85"/><circle cx="601.4" cy="424.1" r="1.85"/><circle cx="625.6" cy="380.0" r="1.85"/><circle cx="628.0" cy="380.6" r="1.85"/><circle cx="624.4" cy="382.4" r="1.85"/><circle cx="626.6" cy="381.6" r="1.85"/><circle cx="626.6" cy="400.0" r="1.85"/><circle cx="621.0" cy="404.0" r="1.85"/><circle cx="624.4" cy="405.0" r="1.85"/><circle cx="627.6" cy="404.6" r="1.85"/><circle cx="622.1" cy="424.1" r="1.85"/><circle cx="627.2" cy="419.4" r="1.85"/><circle cx="622.8" cy="420.3" r="1.85"/><circle cx="627.7" cy="422.9" r="1.85"/><circle cx="625.3" cy="422.2" r="1.85"/><circle cx="625.4" cy="419.4" r="1.85"/><circle cx="626.5" cy="424.7" r="1.85"/><circle cx="621.4" cy="421.0" r="1.85"/><circle cx="624.2" cy="424.7" r="1.85"/><circle cx="621.3" cy="422.9" r="1.85"/><circle cx="627.5" cy="420.8" r="1.85"/><circle cx="624.7" cy="420.7" r="1.85"/><circle cx="621.8" cy="419.9" r="1.85"/><circle cx="647.4" cy="303.6" r="1.85"/><circle cx="645.0" cy="306.0" r="1.85"/><circle cx="644.4" cy="362.6" r="1.85"/><circle cx="643.0" cy="380.4" r="1.85"/><circle cx="649.0" cy="382.0" r="1.85"/><circle cx="642.6" cy="384.6" r="1.85"/><circle cx="646.0" cy="384.0" r="1.85"/><circle cx="647.6" cy="386.4" r="1.85"/><circle cx="646.1" cy="341.9" r="1.85"/><circle cx="646.9" cy="345.8" r="1.85"/><circle cx="644.2" cy="345.9" r="1.85"/><circle cx="644.1" cy="343.4" r="1.85"/><circle cx="646.7" cy="343.5" r="1.85"/><circle cx="645.8" cy="340.6" r="1.85"/><circle cx="644.6" cy="340.5" r="1.85"/><circle cx="669.0" cy="345.0" r="1.85"/><circle cx="664.0" cy="347.4" r="1.85"/><circle cx="666.0" cy="363.6" r="1.85"/><circle cx="670.0" cy="365.4" r="1.85"/><circle cx="664.0" cy="421.0" r="1.85"/><circle cx="670.0" cy="423.4" r="1.85"/><circle cx="670.5" cy="384.6" r="1.85"/><circle cx="664.1" cy="384.1" r="1.85"/><circle cx="668.4" cy="385.6" r="1.85"/><circle cx="665.2" cy="381.4" r="1.85"/><circle cx="668.4" cy="381.3" r="1.85"/><circle cx="668.9" cy="383.9" r="1.85"/><circle cx="665.7" cy="385.8" r="1.85"/><circle cx="670.3" cy="381.8" r="1.85"/><circle cx="665.5" cy="383.7" r="1.85"/><circle cx="667.4" cy="382.5" r="1.85"/><circle cx="664.0" cy="383.1" r="1.85"/><circle cx="667.3" cy="384.6" r="1.85"/><circle cx="667.1" cy="386.4" r="1.85"/><circle cx="689.0" cy="306.6" r="1.85"/><circle cx="688.0" cy="343.0" r="1.85"/><circle cx="690.0" cy="346.4" r="1.85"/><circle cx="688.0" cy="405.0" r="1.85"/><circle cx="685.0" cy="421.6" r="1.85"/><circle cx="690.6" cy="421.0" r="1.85"/><circle cx="689.0" cy="424.0" r="1.85"/><circle cx="690.8" cy="385.4" r="1.85"/><circle cx="685.6" cy="381.8" r="1.85"/><circle cx="689.7" cy="380.0" r="1.85"/><circle cx="690.6" cy="382.2" r="1.85"/><circle cx="685.2" cy="385.0" r="1.85"/><circle cx="687.8" cy="385.5" r="1.85"/><circle cx="687.3" cy="383.0" r="1.85"/><circle cx="687.8" cy="380.4" r="1.85"/><circle cx="686.3" cy="385.8" r="1.85"/><circle cx="688.5" cy="384.2" r="1.85"/><circle cx="707.0" cy="303.0" r="1.85"/><circle cx="712.4" cy="303.0" r="1.85"/><circle cx="708.0" cy="305.6" r="1.85"/><circle cx="709.6" cy="307.0" r="1.85"/><circle cx="713.0" cy="304.6" r="1.85"/><circle cx="711.0" cy="305.0" r="1.85"/><circle cx="708.0" cy="323.0" r="1.85"/><circle cx="710.0" cy="323.0" r="1.85"/><circle cx="709.0" cy="325.4" r="1.85"/><circle cx="709.4" cy="341.6" r="1.85"/><circle cx="711.0" cy="347.0" r="1.85"/><circle cx="709.4" cy="362.4" r="1.85"/><circle cx="708.3" cy="384.6" r="1.85"/><circle cx="713.2" cy="383.9" r="1.85"/><circle cx="712.2" cy="380.9" r="1.85"/><circle cx="707.9" cy="381.4" r="1.85"/><circle cx="709.6" cy="380.4" r="1.85"/><circle cx="711.9" cy="385.2" r="1.85"/><circle cx="706.6" cy="384.0" r="1.85"/><circle cx="710.3" cy="383.2" r="1.85"/><circle cx="709.8" cy="385.3" r="1.85"/><circle cx="709.5" cy="382.0" r="1.85"/><circle cx="728.4" cy="323.6" r="1.85"/><circle cx="729.4" cy="365.4" r="1.85"/><circle cx="730.2" cy="384.8" r="1.85"/><circle cx="733.2" cy="381.7" r="1.85"/><circle cx="733.1" cy="385.9" r="1.85"/><circle cx="734.7" cy="384.5" r="1.85"/><circle cx="728.0" cy="381.7" r="1.85"/><circle cx="732.9" cy="383.6" r="1.85"/><circle cx="727.7" cy="383.4" r="1.85"/><circle cx="734.2" cy="382.8" r="1.85"/><circle cx="731.1" cy="380.8" r="1.85"/><circle cx="730.3" cy="381.6" r="1.85"/><circle cx="731.7" cy="385.1" r="1.85"/><circle cx="728.1" cy="385.2" r="1.85"/><circle cx="729.0" cy="381.5" r="1.85"/><circle cx="729.1" cy="383.1" r="1.85"/><circle cx="731.0" cy="382.8" r="1.85"/><circle cx="731.6" cy="386.4" r="1.85"/><circle cx="733.6" cy="385.0" r="1.85"/><circle cx="728.9" cy="384.3" r="1.85"/><circle cx="755.1" cy="423.4" r="1.85"/><circle cx="750.2" cy="420.3" r="1.85"/><circle cx="751.6" cy="424.4" r="1.85"/><circle cx="756.7" cy="421.8" r="1.85"/><circle cx="750.3" cy="422.4" r="1.85"/><circle cx="752.4" cy="419.9" r="1.85"/><circle cx="752.9" cy="422.6" r="1.85"/><circle cx="750.1" cy="424.0" r="1.85"/><circle cx="755.3" cy="420.2" r="1.85"/></g>
<g stroke="#c4c4c4" stroke-width="1" stroke-dasharray="1 2.3"><line x1="109.3" x2="775.6" y1="552.00" y2="552.00"/><line x1="109.3" x2="775.6" y1="581.19" y2="581.19"/><line x1="109.3" x2="775.6" y1="610.38" y2="610.38"/><line x1="109.3" x2="775.6" y1="639.56" y2="639.56"/><line x1="109.3" x2="775.6" y1="668.75" y2="668.75"/></g>
<path d="M108.25 552.00V668.75M103.3 552.00H108.25M103.3 581.19H108.25M103.3 610.38H108.25M103.3 639.56H108.25M103.3 668.75H108.25M133.10 673.60H752.60M133.10 673.60v5.3M154.46 673.60v5.3M175.82 673.60v5.3M197.19 673.60v5.3M218.55 673.60v5.3M239.91 673.60v5.3M261.27 673.60v5.3M282.63 673.60v5.3M304.00 673.60v5.3M325.36 673.60v5.3M346.72 673.60v5.3M368.08 673.60v5.3M389.44 673.60v5.3M410.81 673.60v5.3M432.17 673.60v5.3M453.53 673.60v5.3M474.89 673.60v5.3M496.25 673.60v5.3M517.62 673.60v5.3M538.98 673.60v5.3M560.34 673.60v5.3M581.70 673.60v5.3M603.06 673.60v5.3M624.43 673.60v5.3M645.79 673.60v5.3M667.15 673.60v5.3M688.51 673.60v5.3M709.87 673.60v5.3M731.24 673.60v5.3M752.60 673.60v5.3" stroke="#2f373b" stroke-width="1.1" fill="none" stroke-linecap="square"/>
<g font-size="8.9" fill="#3a3a3a"><text x="97.6" y="555.30" text-anchor="end">Always (8)</text><text x="97.6" y="584.49" text-anchor="end">Very often (6)</text><text x="97.6" y="613.67" text-anchor="end">Fairly often (4)</text><text x="97.6" y="642.86" text-anchor="end">Sometimes (2)</text><text x="97.6" y="672.05" text-anchor="end">Seldom (0)</text><text x="133.10" y="692.25" text-anchor="middle">A</text><text x="154.46" y="692.25" text-anchor="middle">B</text><text x="175.82" y="692.25" text-anchor="middle">C</text><text x="197.19" y="692.25" text-anchor="middle">D</text><text x="218.55" y="692.25" text-anchor="middle">E</text><text x="239.91" y="692.25" text-anchor="middle">F</text><text x="261.27" y="692.25" text-anchor="middle">G</text><text x="282.63" y="692.25" text-anchor="middle">H</text><text x="304.00" y="692.25" text-anchor="middle">I</text><text x="325.36" y="692.25" text-anchor="middle">J</text><text x="346.72" y="692.25" text-anchor="middle">K</text><text x="368.08" y="692.25" text-anchor="middle">L</text><text x="389.44" y="692.25" text-anchor="middle">M</text><text x="410.81" y="692.25" text-anchor="middle">N</text><text x="432.17" y="692.25" text-anchor="middle">O</text><text x="453.53" y="692.25" text-anchor="middle">P</text><text x="474.89" y="692.25" text-anchor="middle">Q</text><text x="496.25" y="692.25" text-anchor="middle">R</text><text x="517.62" y="692.25" text-anchor="middle">S</text><text x="538.98" y="692.25" text-anchor="middle">T</text><text x="560.34" y="692.25" text-anchor="middle">U</text><text x="581.70" y="692.25" text-anchor="middle">V</text><text x="603.06" y="692.25" text-anchor="middle">W</text><text x="624.43" y="692.25" text-anchor="middle">X</text><text x="645.79" y="692.25" text-anchor="middle">Y</text><text x="667.15" y="692.25" text-anchor="middle">Z</text><text x="688.51" y="692.25" text-anchor="middle" font-family="'Liberation Serif', 'DejaVu Serif', serif" font-size="8.8" fill="#7d7d7d">α</text><text x="709.87" y="692.25" text-anchor="middle" font-family="'Liberation Serif', 'DejaVu Serif', serif" font-size="8.8" fill="#7d7d7d">β</text><text x="731.24" y="692.25" text-anchor="middle" font-family="'Liberation Serif', 'DejaVu Serif', serif" font-size="8.8" fill="#7d7d7d">γ</text><text x="752.60" y="692.25" text-anchor="middle" font-family="'Liberation Serif', 'DejaVu Serif', serif" font-size="8.8" fill="#7d7d7d">δ</text><text x="442.8" y="713.85" text-anchor="middle">Patient ID</text></g>
<path d="M133.10 610.38V639.56M128.10 610.38h10M128.10 639.56h10M154.46 566.59V668.75M149.46 566.59h10M149.46 668.75h10M175.82 581.19V610.38M170.82 581.19h10M170.82 610.38h10M197.19 639.56V668.75M192.19 639.56h10M192.19 668.75h10M218.55 552.00V595.78M213.55 552.00h10M213.55 595.78h10M239.91 552.00V610.38M234.91 552.00h10M234.91 610.38h10M261.27 552.00V610.38M256.27 552.00h10M256.27 610.38h10M282.63 595.78V668.75M277.63 595.78h10M277.63 668.75h10M304.00 581.19V654.16M299.00 581.19h10M299.00 654.16h10M346.72 595.78V668.75M341.72 595.78h10M341.72 668.75h10M368.08 581.19V654.16M363.08 581.19h10M363.08 654.16h10M389.44 552.00V595.78M384.44 552.00h10M384.44 595.78h10M410.81 552.00V581.19M405.81 552.00h10M405.81 581.19h10M432.17 566.59V581.19M427.17 566.59h10M427.17 581.19h10M453.53 581.19V610.38M448.53 581.19h10M448.53 610.38h10M474.89 581.19V639.56M469.89 581.19h10M469.89 639.56h10M496.25 552.00V595.78M491.25 552.00h10M491.25 595.78h10M517.62 552.00V639.56M512.62 552.00h10M512.62 639.56h10M560.34 581.19V668.75M555.34 581.19h10M555.34 668.75h10M581.70 552.00V668.75M576.70 552.00h10M576.70 668.75h10M603.06 552.00V595.78M598.06 552.00h10M598.06 595.78h10M624.43 552.00V581.19M619.43 552.00h10M619.43 581.19h10M645.79 581.19V654.16M640.79 581.19h10M640.79 654.16h10M667.15 552.00V624.97M662.15 552.00h10M662.15 624.97h10M688.51 552.00V639.56M683.51 552.00h10M683.51 639.56h10M709.87 581.19V654.16M704.87 581.19h10M704.87 654.16h10M731.24 581.19V668.75M726.24 581.19h10M726.24 668.75h10M752.60 566.59V610.38M747.60 566.59h10M747.60 610.38h10" stroke="#B46FD6" stroke-width="1.3" fill="none"/>
<g stroke="#A352CC" stroke-width="1.3" fill="none"><circle cx="131.0" cy="611.0" r="1.85"/><circle cx="132.0" cy="610.6" r="1.85"/><circle cx="134.3" cy="638.6" r="1.85"/><circle cx="133.2" cy="639.9" r="1.85"/><circle cx="136.1" cy="640.0" r="1.85"/><circle cx="133.3" cy="638.2" r="1.85"/><circle cx="135.5" cy="640.7" r="1.85"/><circle cx="154.6" cy="567.6" r="1.85"/><circle cx="151.6" cy="582.4" r="1.85"/><circle cx="151.6" cy="593.4" r="1.85"/><circle cx="153.0" cy="595.0" r="1.85"/><circle cx="151.0" cy="595.6" r="1.85"/><circle cx="156.0" cy="597.6" r="1.85"/><circle cx="154.0" cy="595.6" r="1.85"/><circle cx="153.4" cy="639.4" r="1.85"/><circle cx="154.4" cy="670.6" r="1.85"/><circle cx="156.6" cy="670.6" r="1.85"/><circle cx="155.9" cy="612.1" r="1.85"/><circle cx="152.0" cy="611.2" r="1.85"/><circle cx="154.9" cy="609.1" r="1.85"/><circle cx="153.8" cy="612.6" r="1.85"/><circle cx="156.2" cy="610.5" r="1.85"/><circle cx="153.5" cy="610.2" r="1.85"/><circle cx="152.1" cy="610.0" r="1.85"/><circle cx="177.4" cy="582.6" r="1.85"/><circle cx="177.0" cy="609.6" r="1.85"/><circle cx="178.4" cy="610.0" r="1.85"/><circle cx="177.6" cy="611.0" r="1.85"/><circle cx="195.0" cy="639.0" r="1.85"/><circle cx="196.0" cy="639.4" r="1.85"/><circle cx="199.0" cy="669.0" r="1.85"/><circle cx="194.4" cy="667.6" r="1.85"/><circle cx="196.5" cy="670.2" r="1.85"/><circle cx="194.9" cy="668.9" r="1.85"/><circle cx="198.1" cy="666.7" r="1.85"/><circle cx="196.8" cy="668.3" r="1.85"/><circle cx="200.6" cy="667.8" r="1.85"/><circle cx="197.2" cy="667.0" r="1.85"/><circle cx="200.2" cy="669.5" r="1.85"/><circle cx="199.9" cy="668.8" r="1.85"/><circle cx="198.1" cy="670.3" r="1.85"/><circle cx="198.9" cy="667.8" r="1.85"/><circle cx="195.8" cy="666.7" r="1.85"/><circle cx="198.8" cy="669.7" r="1.85"/><circle cx="195.4" cy="667.6" r="1.85"/><circle cx="216.3" cy="552.2" r="1.85"/><circle cx="221.4" cy="553.7" r="1.85"/><circle cx="221.6" cy="550.6" r="1.85"/><circle cx="219.5" cy="551.4" r="1.85"/><circle cx="217.9" cy="550.1" r="1.85"/><circle cx="217.8" cy="553.5" r="1.85"/><circle cx="219.5" cy="552.8" r="1.85"/><circle cx="217.1" cy="551.3" r="1.85"/><circle cx="216.4" cy="553.5" r="1.85"/><circle cx="219.2" cy="550.0" r="1.85"/><circle cx="218.8" cy="552.4" r="1.85"/><circle cx="221.0" cy="552.2" r="1.85"/><circle cx="216.0" cy="550.6" r="1.85"/><circle cx="218.7" cy="550.9" r="1.85"/><circle cx="220.0" cy="553.8" r="1.85"/><circle cx="216.8" cy="550.0" r="1.85"/><circle cx="217.0" cy="554.0" r="1.85"/><circle cx="218.9" cy="553.9" r="1.85"/><circle cx="217.0" cy="566.4" r="1.85"/><circle cx="220.0" cy="566.4" r="1.85"/><circle cx="221.0" cy="595.4" r="1.85"/><circle cx="237.0" cy="550.0" r="1.85"/><circle cx="242.4" cy="549.6" r="1.85"/><circle cx="240.0" cy="553.4" r="1.85"/><circle cx="243.0" cy="553.0" r="1.85"/><circle cx="239.0" cy="552.0" r="1.85"/><circle cx="241.0" cy="551.0" r="1.85"/><circle cx="239.0" cy="567.6" r="1.85"/><circle cx="239.4" cy="568.0" r="1.85"/><circle cx="236.0" cy="582.6" r="1.85"/><circle cx="239.0" cy="580.6" r="1.85"/><circle cx="241.0" cy="581.4" r="1.85"/><circle cx="242.4" cy="582.0" r="1.85"/><circle cx="240.0" cy="582.6" r="1.85"/><circle cx="238.4" cy="595.4" r="1.85"/><circle cx="242.0" cy="608.6" r="1.85"/><circle cx="260.6" cy="550.0" r="1.85"/><circle cx="263.0" cy="550.0" r="1.85"/><circle cx="263.6" cy="579.0" r="1.85"/><circle cx="260.0" cy="582.0" r="1.85"/><circle cx="263.0" cy="582.0" r="1.85"/><circle cx="258.6" cy="593.6" r="1.85"/><circle cx="261.0" cy="594.0" r="1.85"/><circle cx="262.0" cy="596.0" r="1.85"/><circle cx="264.0" cy="597.4" r="1.85"/><circle cx="262.6" cy="596.6" r="1.85"/><circle cx="258.5" cy="608.6" r="1.85"/><circle cx="262.1" cy="611.6" r="1.85"/><circle cx="258.1" cy="612.2" r="1.85"/><circle cx="261.2" cy="608.6" r="1.85"/><circle cx="260.0" cy="610.5" r="1.85"/><circle cx="262.1" cy="610.2" r="1.85"/><circle cx="262.9" cy="608.6" r="1.85"/><circle cx="258.4" cy="610.2" r="1.85"/><circle cx="259.9" cy="608.2" r="1.85"/><circle cx="281.0" cy="597.4" r="1.85"/><circle cx="285.0" cy="597.4" r="1.85"/><circle cx="282.0" cy="609.0" r="1.85"/><circle cx="285.0" cy="609.4" r="1.85"/><circle cx="279.6" cy="611.4" r="1.85"/><circle cx="284.0" cy="610.0" r="1.85"/><circle cx="285.6" cy="624.0" r="1.85"/><circle cx="282.4" cy="625.4" r="1.85"/><circle cx="281.6" cy="654.0" r="1.85"/><circle cx="282.0" cy="654.6" r="1.85"/><circle cx="283.6" cy="666.0" r="1.85"/><circle cx="284.4" cy="667.6" r="1.85"/><circle cx="282.0" cy="668.6" r="1.85"/><circle cx="283.0" cy="671.0" r="1.85"/><circle cx="279.8" cy="641.0" r="1.85"/><circle cx="285.7" cy="639.1" r="1.85"/><circle cx="282.7" cy="641.1" r="1.85"/><circle cx="283.9" cy="639.1" r="1.85"/><circle cx="282.2" cy="639.9" r="1.85"/><circle cx="280.4" cy="638.5" r="1.85"/><circle cx="281.4" cy="637.3" r="1.85"/><circle cx="284.9" cy="641.0" r="1.85"/><circle cx="285.3" cy="638.1" r="1.85"/><circle cx="307.0" cy="579.0" r="1.85"/><circle cx="303.0" cy="609.0" r="1.85"/><circle cx="306.0" cy="611.0" r="1.85"/><circle cx="305.0" cy="622.6" r="1.85"/><circle cx="302.0" cy="625.4" r="1.85"/><circle cx="301.0" cy="626.6" r="1.85"/><circle cx="304.4" cy="652.4" r="1.85"/><circle cx="306.0" cy="652.0" r="1.85"/><circle cx="303.6" cy="655.6" r="1.85"/><circle cx="301.6" cy="636.9" r="1.85"/><circle cx="305.4" cy="639.3" r="1.85"/><circle cx="302.9" cy="639.9" r="1.85"/><circle cx="304.1" cy="641.3" r="1.85"/><circle cx="300.7" cy="640.0" r="1.85"/><circle cx="303.2" cy="637.0" r="1.85"/><circle cx="301.9" cy="638.7" r="1.85"/><circle cx="306.6" cy="637.3" r="1.85"/><circle cx="300.4" cy="638.6" r="1.85"/><circle cx="305.0" cy="637.4" r="1.85"/><circle cx="324.7" cy="551.1" r="1.85"/><circle cx="328.5" cy="552.7" r="1.85"/><circle cx="324.2" cy="554.1" r="1.85"/><circle cx="322.1" cy="551.3" r="1.85"/><circle cx="323.8" cy="552.3" r="1.85"/><circle cx="326.5" cy="552.4" r="1.85"/><circle cx="327.8" cy="552.0" r="1.85"/><circle cx="326.6" cy="549.5" r="1.85"/><circle cx="328.1" cy="550.3" r="1.85"/><circle cx="327.0" cy="551.2" r="1.85"/><circle cx="322.9" cy="549.7" r="1.85"/><circle cx="322.4" cy="552.7" r="1.85"/><circle cx="327.3" cy="553.6" r="1.85"/><circle cx="323.1" cy="551.8" r="1.85"/><circle cx="323.9" cy="551.4" r="1.85"/><circle cx="349.6" cy="594.0" r="1.85"/><circle cx="346.0" cy="626.0" r="1.85"/><circle cx="345.6" cy="626.6" r="1.85"/><circle cx="347.0" cy="651.6" r="1.85"/><circle cx="349.4" cy="655.0" r="1.85"/><circle cx="348.4" cy="667.0" r="1.85"/><circle cx="347.0" cy="668.0" r="1.85"/><circle cx="345.0" cy="670.0" r="1.85"/><circle cx="344.0" cy="671.0" r="1.85"/><circle cx="348.1" cy="638.0" r="1.85"/><circle cx="346.7" cy="640.6" r="1.85"/><circle cx="346.2" cy="638.2" r="1.85"/><circle cx="344.1" cy="640.2" r="1.85"/><circle cx="348.3" cy="641.1" r="1.85"/><circle cx="349.6" cy="637.9" r="1.85"/><circle cx="344.4" cy="637.8" r="1.85"/><circle cx="349.8" cy="639.2" r="1.85"/><circle cx="345.3" cy="640.0" r="1.85"/><circle cx="346.9" cy="637.5" r="1.85"/><circle cx="345.3" cy="636.9" r="1.85"/><circle cx="349.3" cy="640.4" r="1.85"/><circle cx="348.6" cy="638.7" r="1.85"/><circle cx="365.6" cy="580.6" r="1.85"/><circle cx="368.0" cy="582.6" r="1.85"/><circle cx="371.0" cy="583.4" r="1.85"/><circle cx="365.6" cy="595.0" r="1.85"/><circle cx="370.0" cy="626.6" r="1.85"/><circle cx="371.0" cy="638.4" r="1.85"/><circle cx="368.4" cy="639.4" r="1.85"/><circle cx="367.0" cy="655.4" r="1.85"/><circle cx="389.4" cy="550.0" r="1.85"/><circle cx="391.6" cy="550.6" r="1.85"/><circle cx="388.4" cy="593.6" r="1.85"/><circle cx="388.0" cy="596.6" r="1.85"/><circle cx="391.0" cy="597.6" r="1.85"/><circle cx="388.4" cy="566.8" r="1.85"/><circle cx="392.0" cy="568.0" r="1.85"/><circle cx="392.2" cy="564.8" r="1.85"/><circle cx="387.9" cy="564.7" r="1.85"/><circle cx="389.8" cy="565.6" r="1.85"/><circle cx="386.7" cy="568.2" r="1.85"/><circle cx="389.4" cy="568.6" r="1.85"/><circle cx="391.2" cy="579.5" r="1.85"/><circle cx="386.3" cy="579.1" r="1.85"/><circle cx="387.8" cy="583.2" r="1.85"/><circle cx="386.7" cy="581.5" r="1.85"/><circle cx="391.1" cy="583.3" r="1.85"/><circle cx="388.9" cy="579.2" r="1.85"/><circle cx="391.4" cy="581.4" r="1.85"/><circle cx="407.7" cy="550.3" r="1.85"/><circle cx="413.8" cy="553.2" r="1.85"/><circle cx="409.9" cy="553.1" r="1.85"/><circle cx="412.9" cy="551.0" r="1.85"/><circle cx="410.9" cy="550.3" r="1.85"/><circle cx="410.7" cy="551.9" r="1.85"/><circle cx="407.8" cy="553.0" r="1.85"/><circle cx="408.8" cy="553.8" r="1.85"/><circle cx="409.2" cy="549.9" r="1.85"/><circle cx="409.0" cy="551.4" r="1.85"/><circle cx="411.2" cy="554.1" r="1.85"/><circle cx="410.0" cy="551.5" r="1.85"/><circle cx="407.3" cy="551.7" r="1.85"/><circle cx="411.5" cy="553.0" r="1.85"/><circle cx="413.2" cy="552.7" r="1.85"/><circle cx="411.6" cy="567.4" r="1.85"/><circle cx="413.6" cy="579.4" r="1.85"/><circle cx="410.4" cy="582.6" r="1.85"/><circle cx="431.6" cy="565.0" r="1.85"/><circle cx="428.8" cy="581.6" r="1.85"/><circle cx="434.5" cy="583.4" r="1.85"/><circle cx="432.2" cy="582.1" r="1.85"/><circle cx="433.7" cy="579.7" r="1.85"/><circle cx="430.4" cy="580.1" r="1.85"/><circle cx="430.4" cy="582.4" r="1.85"/><circle cx="434.7" cy="582.2" r="1.85"/><circle cx="431.4" cy="580.2" r="1.85"/><circle cx="433.7" cy="581.1" r="1.85"/><circle cx="432.3" cy="580.8" r="1.85"/><circle cx="435.2" cy="580.2" r="1.85"/><circle cx="432.9" cy="583.5" r="1.85"/><circle cx="435.1" cy="581.1" r="1.85"/><circle cx="435.8" cy="582.3" r="1.85"/><circle cx="429.9" cy="581.8" r="1.85"/><circle cx="452.7" cy="579.6" r="1.85"/><circle cx="454.9" cy="581.4" r="1.85"/><circle cx="453.0" cy="583.2" r="1.85"/><circle cx="450.8" cy="582.0" r="1.85"/><circle cx="451.6" cy="580.5" r="1.85"/><circle cx="454.7" cy="579.9" r="1.85"/><circle cx="456.6" cy="582.5" r="1.85"/><circle cx="456.6" cy="580.4" r="1.85"/><circle cx="452.6" cy="581.8" r="1.85"/><circle cx="454.1" cy="581.9" r="1.85"/><circle cx="455.5" cy="582.7" r="1.85"/><circle cx="451.4" cy="583.1" r="1.85"/><circle cx="453.5" cy="582.3" r="1.85"/><circle cx="455.6" cy="594.4" r="1.85"/><circle cx="453.0" cy="596.0" r="1.85"/><circle cx="450.6" cy="597.6" r="1.85"/><circle cx="451.6" cy="611.4" r="1.85"/><circle cx="453.6" cy="612.4" r="1.85"/><circle cx="471.3" cy="582.6" r="1.85"/><circle cx="477.4" cy="582.3" r="1.85"/><circle cx="476.6" cy="579.3" r="1.85"/><circle cx="473.6" cy="580.2" r="1.85"/><circle cx="474.4" cy="583.6" r="1.85"/><circle cx="477.8" cy="580.7" r="1.85"/><circle cx="472.3" cy="581.2" r="1.85"/><circle cx="476.3" cy="580.9" r="1.85"/><circle cx="472.0" cy="579.7" r="1.85"/><circle cx="474.5" cy="579.3" r="1.85"/><circle cx="473.0" cy="579.5" r="1.85"/><circle cx="474.1" cy="581.7" r="1.85"/><circle cx="475.3" cy="582.6" r="1.85"/><circle cx="472.9" cy="582.3" r="1.85"/><circle cx="475.3" cy="579.2" r="1.85"/><circle cx="476.4" cy="594.4" r="1.85"/><circle cx="474.0" cy="608.4" r="1.85"/><circle cx="475.6" cy="611.0" r="1.85"/><circle cx="473.6" cy="640.0" r="1.85"/><circle cx="474.0" cy="641.0" r="1.85"/><circle cx="477.6" cy="640.6" r="1.85"/><circle cx="495.6" cy="551.0" r="1.85"/><circle cx="493.0" cy="595.6" r="1.85"/><circle cx="498.4" cy="595.0" r="1.85"/><circle cx="497.1" cy="567.5" r="1.85"/><circle cx="492.5" cy="565.7" r="1.85"/><circle cx="495.1" cy="564.2" r="1.85"/><circle cx="499.5" cy="564.8" r="1.85"/><circle cx="494.5" cy="566.6" r="1.85"/><circle cx="496.6" cy="565.1" r="1.85"/><circle cx="499.1" cy="566.9" r="1.85"/><circle cx="494.1" cy="564.3" r="1.85"/><circle cx="494.6" cy="583.6" r="1.85"/><circle cx="499.5" cy="580.0" r="1.85"/><circle cx="492.9" cy="579.4" r="1.85"/><circle cx="498.2" cy="583.2" r="1.85"/><circle cx="494.7" cy="580.6" r="1.85"/><circle cx="496.2" cy="578.3" r="1.85"/><circle cx="497.3" cy="580.5" r="1.85"/><circle cx="498.6" cy="581.5" r="1.85"/><circle cx="498.7" cy="578.7" r="1.85"/><circle cx="516.1" cy="551.0" r="1.85"/><circle cx="519.3" cy="552.9" r="1.85"/><circle cx="519.1" cy="551.1" r="1.85"/><circle cx="516.3" cy="552.7" r="1.85"/><circle cx="514.6" cy="552.9" r="1.85"/><circle cx="517.6" cy="550.3" r="1.85"/><circle cx="516.4" cy="566.0" r="1.85"/><circle cx="520.0" cy="565.6" r="1.85"/><circle cx="516.0" cy="567.6" r="1.85"/><circle cx="517.0" cy="595.0" r="1.85"/><circle cx="520.0" cy="594.6" r="1.85"/><circle cx="517.4" cy="596.0" r="1.85"/><circle cx="517.0" cy="610.0" r="1.85"/><circle cx="519.0" cy="610.0" r="1.85"/><circle cx="517.6" cy="624.6" r="1.85"/><circle cx="520.0" cy="640.4" r="1.85"/><circle cx="514.0" cy="580.4" r="1.85"/><circle cx="520.4" cy="581.8" r="1.85"/><circle cx="517.4" cy="581.0" r="1.85"/><circle cx="516.5" cy="583.7" r="1.85"/><circle cx="519.8" cy="579.9" r="1.85"/><circle cx="518.2" cy="582.5" r="1.85"/><circle cx="519.6" cy="583.3" r="1.85"/><circle cx="538.2" cy="552.0" r="1.85"/><circle cx="540.5" cy="554.1" r="1.85"/><circle cx="535.9" cy="553.7" r="1.85"/><circle cx="542.5" cy="552.4" r="1.85"/><circle cx="536.9" cy="550.7" r="1.85"/><circle cx="537.1" cy="553.0" r="1.85"/><circle cx="535.8" cy="552.1" r="1.85"/><circle cx="539.8" cy="550.8" r="1.85"/><circle cx="538.8" cy="553.8" r="1.85"/><circle cx="541.6" cy="554.2" r="1.85"/><circle cx="537.1" cy="554.4" r="1.85"/><circle cx="536.8" cy="552.2" r="1.85"/><circle cx="540.4" cy="551.9" r="1.85"/><circle cx="540.5" cy="549.9" r="1.85"/><circle cx="542.0" cy="550.6" r="1.85"/><circle cx="538.1" cy="550.6" r="1.85"/><circle cx="539.9" cy="552.7" r="1.85"/><circle cx="542.0" cy="552.1" r="1.85"/><circle cx="558.0" cy="582.0" r="1.85"/><circle cx="559.4" cy="582.6" r="1.85"/><circle cx="563.4" cy="582.4" r="1.85"/><circle cx="557.0" cy="595.0" r="1.85"/><circle cx="559.6" cy="594.4" r="1.85"/><circle cx="558.0" cy="608.0" r="1.85"/><circle cx="559.0" cy="610.6" r="1.85"/><circle cx="562.4" cy="623.0" r="1.85"/><circle cx="561.6" cy="638.0" r="1.85"/><circle cx="562.0" cy="640.6" r="1.85"/><circle cx="558.4" cy="655.4" r="1.85"/><circle cx="560.0" cy="669.6" r="1.85"/><circle cx="563.7" cy="667.7" r="1.85"/><circle cx="559.6" cy="666.5" r="1.85"/><circle cx="562.1" cy="671.1" r="1.85"/><circle cx="558.5" cy="668.4" r="1.85"/><circle cx="557.9" cy="670.4" r="1.85"/><circle cx="560.7" cy="671.1" r="1.85"/><circle cx="580.0" cy="553.4" r="1.85"/><circle cx="581.0" cy="582.6" r="1.85"/><circle cx="584.4" cy="582.6" r="1.85"/><circle cx="578.6" cy="593.4" r="1.85"/><circle cx="582.4" cy="598.0" r="1.85"/><circle cx="583.6" cy="626.6" r="1.85"/><circle cx="579.4" cy="654.0" r="1.85"/><circle cx="582.5" cy="611.7" r="1.85"/><circle cx="579.9" cy="608.6" r="1.85"/><circle cx="582.5" cy="609.6" r="1.85"/><circle cx="584.5" cy="608.6" r="1.85"/><circle cx="579.8" cy="610.4" r="1.85"/><circle cx="584.1" cy="610.7" r="1.85"/><circle cx="581.6" cy="608.5" r="1.85"/><circle cx="583.3" cy="639.1" r="1.85"/><circle cx="582.3" cy="641.5" r="1.85"/><circle cx="580.2" cy="640.9" r="1.85"/><circle cx="581.1" cy="638.2" r="1.85"/><circle cx="580.2" cy="639.5" r="1.85"/><circle cx="581.3" cy="641.1" r="1.85"/><circle cx="583.4" cy="640.8" r="1.85"/><circle cx="580.6" cy="666.2" r="1.85"/><circle cx="582.5" cy="667.4" r="1.85"/><circle cx="578.7" cy="667.4" r="1.85"/><circle cx="580.0" cy="667.6" r="1.85"/><circle cx="581.5" cy="668.3" r="1.85"/><circle cx="604.4" cy="551.0" r="1.85"/><circle cx="603.0" cy="597.6" r="1.85"/><circle cx="605.3" cy="583.1" r="1.85"/><circle cx="601.9" cy="580.0" r="1.85"/><circle cx="601.9" cy="583.3" r="1.85"/><circle cx="605.0" cy="579.8" r="1.85"/><circle cx="600.1" cy="582.2" r="1.85"/><circle cx="600.5" cy="580.8" r="1.85"/><circle cx="605.8" cy="582.2" r="1.85"/><circle cx="603.4" cy="582.0" r="1.85"/><circle cx="605.1" cy="581.1" r="1.85"/><circle cx="601.8" cy="581.6" r="1.85"/><circle cx="602.7" cy="579.8" r="1.85"/><circle cx="602.6" cy="581.8" r="1.85"/><circle cx="603.7" cy="580.3" r="1.85"/><circle cx="604.4" cy="581.8" r="1.85"/><circle cx="603.8" cy="582.9" r="1.85"/><circle cx="623.6" cy="550.4" r="1.85"/><circle cx="627.4" cy="553.6" r="1.85"/><circle cx="627.6" cy="567.2" r="1.85"/><circle cx="622.1" cy="564.5" r="1.85"/><circle cx="622.9" cy="568.3" r="1.85"/><circle cx="625.2" cy="565.9" r="1.85"/><circle cx="621.3" cy="566.5" r="1.85"/><circle cx="626.4" cy="564.5" r="1.85"/><circle cx="623.6" cy="565.3" r="1.85"/><circle cx="626.5" cy="580.0" r="1.85"/><circle cx="620.9" cy="582.3" r="1.85"/><circle cx="627.3" cy="583.0" r="1.85"/><circle cx="622.8" cy="579.8" r="1.85"/><circle cx="623.9" cy="583.2" r="1.85"/><circle cx="624.7" cy="581.4" r="1.85"/><circle cx="622.6" cy="583.1" r="1.85"/><circle cx="621.9" cy="581.1" r="1.85"/><circle cx="623.6" cy="581.6" r="1.85"/><circle cx="623.8" cy="580.3" r="1.85"/><circle cx="621.0" cy="580.3" r="1.85"/><circle cx="625.9" cy="581.4" r="1.85"/><circle cx="626.7" cy="582.3" r="1.85"/><circle cx="642.9" cy="579.9" r="1.85"/><circle cx="647.2" cy="582.2" r="1.85"/><circle cx="643.7" cy="582.0" r="1.85"/><circle cx="646.7" cy="580.2" r="1.85"/><circle cx="642.4" cy="581.4" r="1.85"/><circle cx="648.4" cy="595.4" r="1.85"/><circle cx="645.0" cy="597.6" r="1.85"/><circle cx="646.0" cy="609.4" r="1.85"/><circle cx="649.0" cy="609.6" r="1.85"/><circle cx="647.0" cy="610.6" r="1.85"/><circle cx="647.6" cy="625.0" r="1.85"/><circle cx="644.4" cy="638.0" r="1.85"/><circle cx="647.4" cy="638.0" r="1.85"/><circle cx="646.0" cy="641.0" r="1.85"/><circle cx="643.6" cy="653.6" r="1.85"/><circle cx="644.6" cy="655.0" r="1.85"/><circle cx="667.3" cy="551.8" r="1.85"/><circle cx="663.6" cy="552.3" r="1.85"/><circle cx="665.3" cy="550.5" r="1.85"/><circle cx="667.9" cy="553.6" r="1.85"/><circle cx="664.9" cy="553.2" r="1.85"/><circle cx="667.2" cy="549.4" r="1.85"/><circle cx="668.4" cy="550.5" r="1.85"/><circle cx="666.6" cy="550.3" r="1.85"/><circle cx="664.1" cy="549.5" r="1.85"/><circle cx="670.0" cy="564.6" r="1.85"/><circle cx="669.0" cy="566.0" r="1.85"/><circle cx="666.0" cy="568.0" r="1.85"/><circle cx="669.0" cy="609.6" r="1.85"/><circle cx="664.4" cy="624.0" r="1.85"/><circle cx="667.6" cy="624.0" r="1.85"/><circle cx="670.4" cy="626.6" r="1.85"/><circle cx="665.8" cy="580.1" r="1.85"/><circle cx="669.2" cy="582.8" r="1.85"/><circle cx="669.2" cy="579.8" r="1.85"/><circle cx="667.2" cy="581.9" r="1.85"/><circle cx="664.3" cy="581.5" r="1.85"/><circle cx="664.8" cy="583.5" r="1.85"/><circle cx="668.7" cy="581.3" r="1.85"/><circle cx="686.6" cy="549.6" r="1.85"/><circle cx="686.4" cy="553.4" r="1.85"/><circle cx="690.0" cy="553.0" r="1.85"/><circle cx="691.6" cy="552.0" r="1.85"/><circle cx="690.0" cy="554.0" r="1.85"/><circle cx="691.4" cy="579.0" r="1.85"/><circle cx="688.6" cy="583.4" r="1.85"/><circle cx="689.0" cy="593.6" r="1.85"/><circle cx="689.4" cy="597.0" r="1.85"/><circle cx="691.6" cy="608.6" r="1.85"/><circle cx="690.0" cy="609.4" r="1.85"/><circle cx="685.6" cy="639.0" r="1.85"/><circle cx="707.6" cy="581.4" r="1.85"/><circle cx="712.6" cy="581.4" r="1.85"/><circle cx="707.0" cy="594.6" r="1.85"/><circle cx="710.6" cy="594.0" r="1.85"/><circle cx="708.0" cy="595.6" r="1.85"/><circle cx="711.6" cy="597.6" r="1.85"/><circle cx="708.4" cy="609.0" r="1.85"/><circle cx="713.0" cy="608.6" r="1.85"/><circle cx="712.0" cy="611.0" r="1.85"/><circle cx="709.0" cy="623.0" r="1.85"/><circle cx="707.6" cy="625.0" r="1.85"/><circle cx="707.0" cy="625.4" r="1.85"/><circle cx="711.0" cy="652.4" r="1.85"/><circle cx="707.0" cy="638.0" r="1.85"/><circle cx="710.0" cy="637.4" r="1.85"/><circle cx="712.4" cy="638.6" r="1.85"/><circle cx="708.0" cy="640.6" r="1.85"/><circle cx="711.0" cy="641.0" r="1.85"/><circle cx="713.0" cy="642.0" r="1.85"/><circle cx="709.0" cy="643.0" r="1.85"/><circle cx="706.0" cy="639.0" r="1.85"/><circle cx="731.4" cy="579.6" r="1.85"/><circle cx="730.0" cy="594.6" r="1.85"/><circle cx="731.6" cy="595.0" r="1.85"/><circle cx="734.4" cy="594.6" r="1.85"/><circle cx="730.6" cy="595.4" r="1.85"/><circle cx="730.4" cy="609.0" r="1.85"/><circle cx="730.6" cy="611.4" r="1.85"/><circle cx="733.6" cy="623.0" r="1.85"/><circle cx="733.4" cy="626.0" r="1.85"/><circle cx="734.0" cy="624.6" r="1.85"/><circle cx="730.6" cy="638.0" r="1.85"/><circle cx="734.4" cy="639.0" r="1.85"/><circle cx="728.0" cy="667.0" r="1.85"/><circle cx="733.6" cy="667.0" r="1.85"/><circle cx="730.0" cy="670.0" r="1.85"/><circle cx="731.0" cy="671.0" r="1.85"/><circle cx="731.6" cy="668.6" r="1.85"/><circle cx="750.6" cy="564.6" r="1.85"/><circle cx="750.4" cy="597.4" r="1.85"/><circle cx="749.6" cy="609.4" r="1.85"/><circle cx="754.4" cy="608.6" r="1.85"/><circle cx="753.7" cy="581.2" r="1.85"/><circle cx="750.7" cy="582.0" r="1.85"/><circle cx="751.9" cy="579.3" r="1.85"/><circle cx="755.2" cy="582.6" r="1.85"/><circle cx="753.7" cy="583.4" r="1.85"/><circle cx="754.7" cy="580.0" r="1.85"/><circle cx="753.5" cy="579.1" r="1.85"/><circle cx="755.6" cy="581.1" r="1.85"/></g>
</svg></body></html>
